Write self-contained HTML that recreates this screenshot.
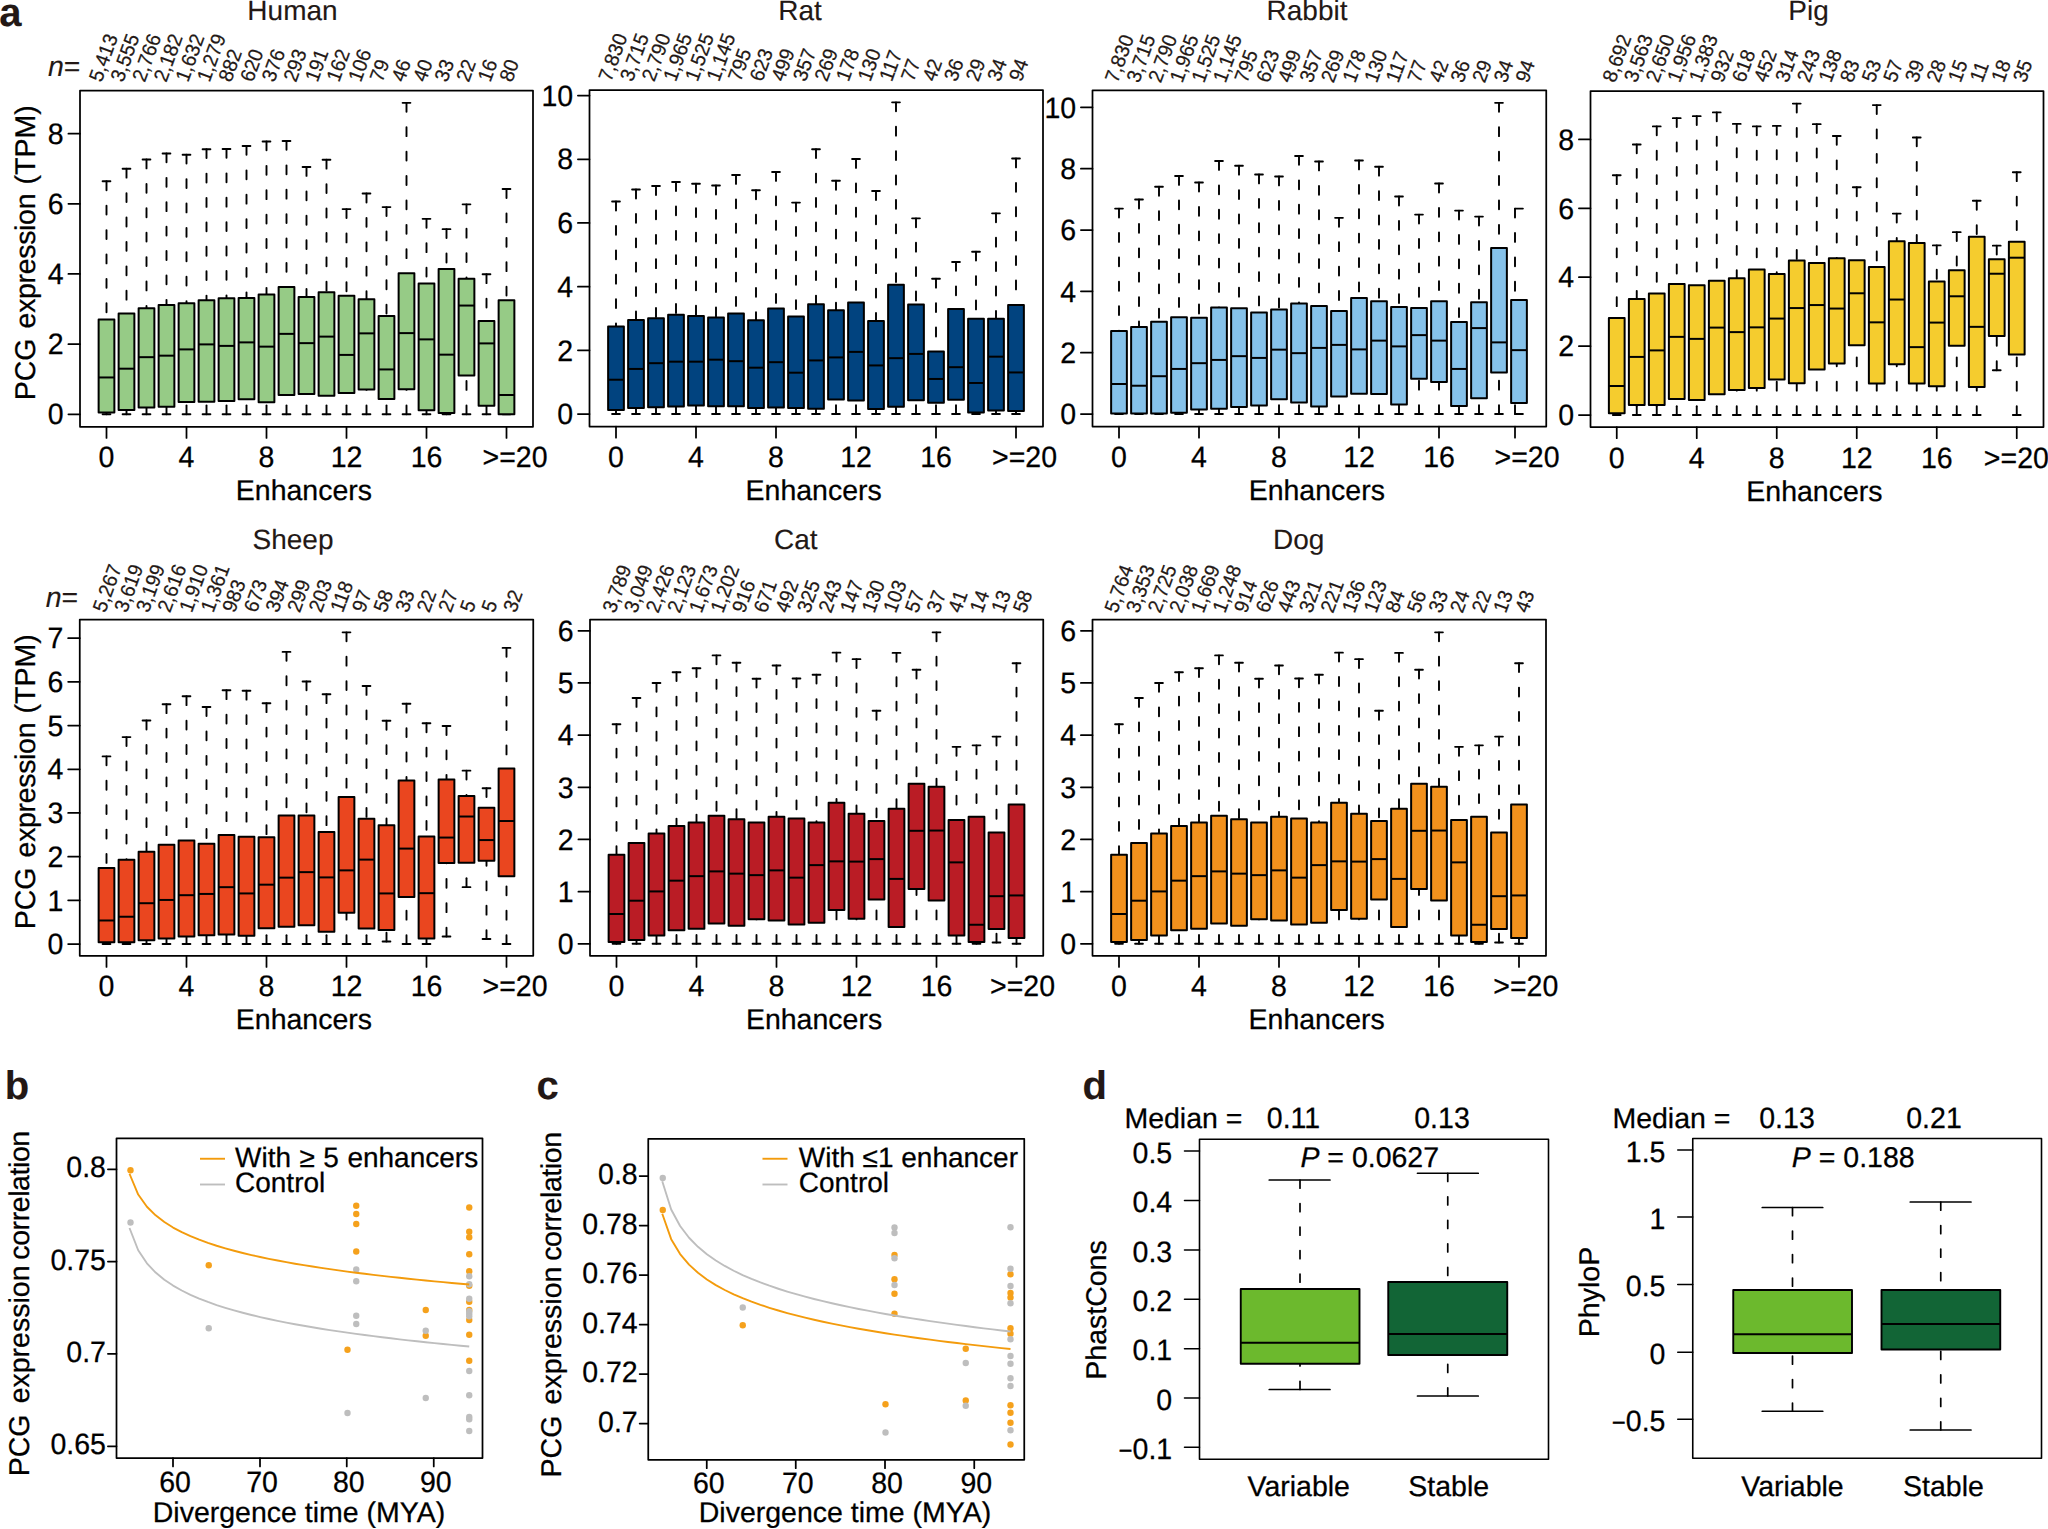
<!DOCTYPE html>
<html lang="en"><head><meta charset="utf-8"><title>Figure</title>
<style>
html,body{margin:0;padding:0;background:#fff}
svg{display:block}
text{font-family:'Liberation Sans', Arial, Helvetica, sans-serif;fill:#000;text-rendering:geometricPrecision;stroke:#000;stroke-width:.26px;stroke-linejoin:round}
.k{fill:#231815;stroke:#231815;stroke-width:.12px}
.kn{stroke-width:.22px}
.fr{fill:none;stroke:#000;stroke-width:1.75;stroke-linejoin:round}
.fr2{fill:none;stroke:#000;stroke-width:1.6;stroke-linejoin:round}
.t{fill:none;stroke:#000;stroke-width:1.75;stroke-linecap:round}
.t2{fill:none;stroke:#000;stroke-width:1.55;stroke-linecap:round}
.w{stroke:#000;stroke-width:1.9;stroke-dasharray:8.9 15.5;stroke-linecap:round}
.c{stroke:#000;stroke-width:1.9;fill:none;stroke-linecap:round}
.b{stroke:#000;stroke-width:2.0;stroke-linejoin:round}
.m{stroke:#000;stroke-width:2.0}
.w2{stroke:#000;stroke-width:1.7;stroke-dasharray:8.2 15.3;stroke-linecap:round}
.c2{stroke:#000;stroke-width:1.7;fill:none;stroke-linecap:round}
.b2{stroke:#000;stroke-width:1.9;stroke-linejoin:round}
.m2{stroke:#000;stroke-width:1.9}
</style></head>
<body>
<svg width="2048" height="1529" viewBox="0 0 2048 1529">
<rect width="2048" height="1529" fill="#fff"/>
<g>
<text x="292.5" y="20" text-anchor="middle" font-size="28" class="k">Human</text>
<text transform="translate(101.5,83) rotate(-70) scale(1,1.035)" font-size="19.5" class="k kn">5,413</text>
<text transform="translate(123.1,83) rotate(-70) scale(1,1.035)" font-size="19.5" class="k kn">3,555</text>
<text transform="translate(144.7,83) rotate(-70) scale(1,1.035)" font-size="19.5" class="k kn">2,766</text>
<text transform="translate(166.3,83) rotate(-70) scale(1,1.035)" font-size="19.5" class="k kn">2,182</text>
<text transform="translate(187.9,83) rotate(-70) scale(1,1.035)" font-size="19.5" class="k kn">1,632</text>
<text transform="translate(209.5,83) rotate(-70) scale(1,1.035)" font-size="19.5" class="k kn">1,279</text>
<text transform="translate(231.1,83) rotate(-70) scale(1,1.035)" font-size="19.5" class="k kn">882</text>
<text transform="translate(252.7,83) rotate(-70) scale(1,1.035)" font-size="19.5" class="k kn">620</text>
<text transform="translate(274.3,83) rotate(-70) scale(1,1.035)" font-size="19.5" class="k kn">376</text>
<text transform="translate(295.9,83) rotate(-70) scale(1,1.035)" font-size="19.5" class="k kn">293</text>
<text transform="translate(317.5,83) rotate(-70) scale(1,1.035)" font-size="19.5" class="k kn">191</text>
<text transform="translate(339.1,83) rotate(-70) scale(1,1.035)" font-size="19.5" class="k kn">162</text>
<text transform="translate(360.7,83) rotate(-70) scale(1,1.035)" font-size="19.5" class="k kn">106</text>
<text transform="translate(382.3,83) rotate(-70) scale(1,1.035)" font-size="19.5" class="k kn">79</text>
<text transform="translate(403.9,83) rotate(-70) scale(1,1.035)" font-size="19.5" class="k kn">46</text>
<text transform="translate(425.5,83) rotate(-70) scale(1,1.035)" font-size="19.5" class="k kn">40</text>
<text transform="translate(447.1,83) rotate(-70) scale(1,1.035)" font-size="19.5" class="k kn">33</text>
<text transform="translate(468.7,83) rotate(-70) scale(1,1.035)" font-size="19.5" class="k kn">22</text>
<text transform="translate(490.3,83) rotate(-70) scale(1,1.035)" font-size="19.5" class="k kn">16</text>
<text transform="translate(511.9,83) rotate(-70) scale(1,1.035)" font-size="19.5" class="k kn">80</text>
<text x="48" y="76.3" font-size="28.5" class="k"><tspan font-style="italic">n</tspan>=</text>
<text transform="translate(35.3,400.25) rotate(-90)" font-size="28.5">PCG<tspan dx="2.2"> </tspan><tspan letter-spacing="-.33">expression</tspan><tspan dx="1.5"> (TPM)</tspan></text>
<line x1="106.5" y1="181.28" x2="106.5" y2="319.58" class="w"/>
<line x1="106.5" y1="414.29" x2="106.5" y2="412.54" class="w"/>
<path d="M102.6 181.28H110.4M102.6 414.29H110.4" class="c"/>
<rect x="98.63" y="319.58" width="15.74" height="92.95" fill="#96CB86" class="b"/>
<line x1="98.63" y1="377.46" x2="114.37" y2="377.46" class="m"/>
<line x1="126.5" y1="168.75" x2="126.5" y2="313.57" class="w"/>
<line x1="126.5" y1="414.29" x2="126.5" y2="410.03" class="w"/>
<path d="M122.6 168.75H130.4M122.6 414.29H130.4" class="c"/>
<rect x="118.63" y="313.57" width="15.74" height="96.46" fill="#96CB86" class="b"/>
<line x1="118.63" y1="368.69" x2="134.37" y2="368.69" class="m"/>
<line x1="146.5" y1="159.48" x2="146.5" y2="308.31" class="w"/>
<line x1="146.5" y1="414.29" x2="146.5" y2="407.53" class="w"/>
<path d="M142.6 159.48H150.4M142.6 414.29H150.4" class="c"/>
<rect x="138.63" y="308.31" width="15.74" height="99.22" fill="#96CB86" class="b"/>
<line x1="138.63" y1="357.17" x2="154.37" y2="357.17" class="m"/>
<line x1="166.5" y1="153.47" x2="166.5" y2="305.05" class="w"/>
<line x1="166.5" y1="414.29" x2="166.5" y2="406.78" class="w"/>
<path d="M162.6 153.47H170.4M162.6 414.29H170.4" class="c"/>
<rect x="158.63" y="305.05" width="15.74" height="101.72" fill="#96CB86" class="b"/>
<line x1="158.63" y1="355.66" x2="174.37" y2="355.66" class="m"/>
<line x1="186.5" y1="154.72" x2="186.5" y2="303.3" class="w"/>
<line x1="186.5" y1="414.29" x2="186.5" y2="402.01" class="w"/>
<path d="M182.6 154.72H190.4M182.6 414.29H190.4" class="c"/>
<rect x="178.63" y="303.3" width="15.74" height="98.72" fill="#96CB86" class="b"/>
<line x1="178.63" y1="349.4" x2="194.37" y2="349.4" class="m"/>
<line x1="206.5" y1="149.21" x2="206.5" y2="300.29" class="w"/>
<line x1="206.5" y1="414.29" x2="206.5" y2="401.76" class="w"/>
<path d="M202.6 149.21H210.4M202.6 414.29H210.4" class="c"/>
<rect x="198.63" y="300.29" width="15.74" height="101.47" fill="#96CB86" class="b"/>
<line x1="198.63" y1="344.39" x2="214.37" y2="344.39" class="m"/>
<line x1="226.5" y1="148.96" x2="226.5" y2="298.29" class="w"/>
<line x1="226.5" y1="414.29" x2="226.5" y2="401.01" class="w"/>
<path d="M222.6 148.96H230.4M222.6 414.29H230.4" class="c"/>
<rect x="218.63" y="298.29" width="15.74" height="102.73" fill="#96CB86" class="b"/>
<line x1="218.63" y1="345.89" x2="234.37" y2="345.89" class="m"/>
<line x1="246.5" y1="145.95" x2="246.5" y2="298.04" class="w"/>
<line x1="246.5" y1="414.29" x2="246.5" y2="399.26" class="w"/>
<path d="M242.6 145.95H250.4M242.6 414.29H250.4" class="c"/>
<rect x="238.63" y="298.04" width="15.74" height="101.22" fill="#96CB86" class="b"/>
<line x1="238.63" y1="342.38" x2="254.37" y2="342.38" class="m"/>
<line x1="266.5" y1="141.44" x2="266.5" y2="294.53" class="w"/>
<line x1="266.5" y1="414.29" x2="266.5" y2="402.27" class="w"/>
<path d="M262.6 141.44H270.4M262.6 414.29H270.4" class="c"/>
<rect x="258.63" y="294.53" width="15.74" height="107.74" fill="#96CB86" class="b"/>
<line x1="258.63" y1="346.64" x2="274.37" y2="346.64" class="m"/>
<line x1="286.5" y1="140.94" x2="286.5" y2="287.01" class="w"/>
<line x1="286.5" y1="414.29" x2="286.5" y2="395" class="w"/>
<path d="M282.6 140.94H290.4M282.6 414.29H290.4" class="c"/>
<rect x="278.63" y="287.01" width="15.74" height="107.99" fill="#96CB86" class="b"/>
<line x1="278.63" y1="333.87" x2="294.37" y2="333.87" class="m"/>
<line x1="306.5" y1="167" x2="306.5" y2="297.03" class="w"/>
<line x1="306.5" y1="414.29" x2="306.5" y2="394" class="w"/>
<path d="M302.6 167H310.4M302.6 414.29H310.4" class="c"/>
<rect x="298.63" y="297.03" width="15.74" height="96.96" fill="#96CB86" class="b"/>
<line x1="298.63" y1="343.14" x2="314.37" y2="343.14" class="m"/>
<line x1="326.5" y1="159.73" x2="326.5" y2="292.27" class="w"/>
<line x1="326.5" y1="414.29" x2="326.5" y2="395.75" class="w"/>
<path d="M322.6 159.73H330.4M322.6 414.29H330.4" class="c"/>
<rect x="318.63" y="292.27" width="15.74" height="103.48" fill="#96CB86" class="b"/>
<line x1="318.63" y1="336.62" x2="334.37" y2="336.62" class="m"/>
<line x1="346.5" y1="209.09" x2="346.5" y2="295.78" class="w"/>
<line x1="346.5" y1="414.29" x2="346.5" y2="393" class="w"/>
<path d="M342.6 209.09H350.4M342.6 414.29H350.4" class="c"/>
<rect x="338.63" y="295.78" width="15.74" height="97.21" fill="#96CB86" class="b"/>
<line x1="338.63" y1="354.91" x2="354.37" y2="354.91" class="m"/>
<line x1="366.5" y1="193.56" x2="366.5" y2="299.29" class="w"/>
<line x1="366.5" y1="414.29" x2="366.5" y2="389.49" class="w"/>
<path d="M362.6 193.56H370.4M362.6 414.29H370.4" class="c"/>
<rect x="358.63" y="299.29" width="15.74" height="90.2" fill="#96CB86" class="b"/>
<line x1="358.63" y1="333.36" x2="374.37" y2="333.36" class="m"/>
<line x1="386.5" y1="207.09" x2="386.5" y2="316.08" class="w"/>
<line x1="386.5" y1="414.29" x2="386.5" y2="399.01" class="w"/>
<path d="M382.6 207.09H390.4M382.6 414.29H390.4" class="c"/>
<rect x="378.63" y="316.08" width="15.74" height="82.93" fill="#96CB86" class="b"/>
<line x1="378.63" y1="369.44" x2="394.37" y2="369.44" class="m"/>
<line x1="406.5" y1="102.86" x2="406.5" y2="273.23" class="w"/>
<line x1="406.5" y1="414.29" x2="406.5" y2="389.24" class="w"/>
<path d="M402.6 102.86H410.4M402.6 414.29H410.4" class="c"/>
<rect x="398.63" y="273.23" width="15.74" height="116" fill="#96CB86" class="b"/>
<line x1="398.63" y1="333.11" x2="414.37" y2="333.11" class="m"/>
<line x1="426.5" y1="218.86" x2="426.5" y2="283.5" class="w"/>
<line x1="426.5" y1="414.29" x2="426.5" y2="410.28" class="w"/>
<path d="M422.6 218.86H430.4M422.6 414.29H430.4" class="c"/>
<rect x="418.63" y="283.5" width="15.74" height="126.78" fill="#96CB86" class="b"/>
<line x1="418.63" y1="339.38" x2="434.37" y2="339.38" class="m"/>
<line x1="446.5" y1="229.14" x2="446.5" y2="268.97" class="w"/>
<line x1="446.5" y1="414.29" x2="446.5" y2="413.04" class="w"/>
<path d="M442.6 229.14H450.4M442.6 414.29H450.4" class="c"/>
<rect x="438.63" y="268.97" width="15.74" height="144.07" fill="#96CB86" class="b"/>
<line x1="438.63" y1="354.66" x2="454.37" y2="354.66" class="m"/>
<line x1="466.5" y1="204.33" x2="466.5" y2="278.74" class="w"/>
<line x1="466.5" y1="414.29" x2="466.5" y2="375.46" class="w"/>
<path d="M462.6 204.33H470.4M462.6 414.29H470.4" class="c"/>
<rect x="458.63" y="278.74" width="15.74" height="96.71" fill="#96CB86" class="b"/>
<line x1="458.63" y1="305.55" x2="474.37" y2="305.55" class="m"/>
<line x1="486.5" y1="274.23" x2="486.5" y2="321.09" class="w"/>
<line x1="486.5" y1="414.29" x2="486.5" y2="405.77" class="w"/>
<path d="M482.6 274.23H490.4M482.6 414.29H490.4" class="c"/>
<rect x="478.63" y="321.09" width="15.74" height="84.69" fill="#96CB86" class="b"/>
<line x1="478.63" y1="343.39" x2="494.37" y2="343.39" class="m"/>
<line x1="506.5" y1="189.05" x2="506.5" y2="300.29" class="w"/>
<path d="M502.6 189.05H510.4M502.6 414.29H510.4" class="c"/>
<rect x="498.63" y="300.29" width="15.74" height="114" fill="#96CB86" class="b"/>
<line x1="498.63" y1="395" x2="514.37" y2="395" class="m"/>
<rect x="80" y="90.5" width="453" height="336.25" class="fr"/>
<text transform="translate(63.7,424.49) scale(1,1.035)" text-anchor="end" font-size="28.5">0</text>
<text transform="translate(63.7,354.34) scale(1,1.035)" text-anchor="end" font-size="28.5">2</text>
<text transform="translate(63.7,284.18) scale(1,1.035)" text-anchor="end" font-size="28.5">4</text>
<text transform="translate(63.7,214.03) scale(1,1.035)" text-anchor="end" font-size="28.5">6</text>
<text transform="translate(63.7,143.88) scale(1,1.035)" text-anchor="end" font-size="28.5">8</text>
<text transform="translate(106.5,467.25) scale(1,1.035)" text-anchor="middle" font-size="28.5">0</text>
<text transform="translate(186.5,467.25) scale(1,1.035)" text-anchor="middle" font-size="28.5">4</text>
<text transform="translate(266.5,467.25) scale(1,1.035)" text-anchor="middle" font-size="28.5">8</text>
<text transform="translate(346.5,467.25) scale(1,1.035)" text-anchor="middle" font-size="28.5">12</text>
<text transform="translate(426.5,467.25) scale(1,1.035)" text-anchor="middle" font-size="28.5">16</text>
<text transform="translate(515,467.25) scale(1,1.035)" text-anchor="middle" font-size="28.5">&gt;=20</text>
<path d="M68.4 414.29H80M68.4 344.14H80M68.4 273.98H80M68.4 203.83H80M68.4 133.68H80M106.5 426.75V437.95M186.5 426.75V437.95M266.5 426.75V437.95M346.5 426.75V437.95M426.5 426.75V437.95M506.5 426.75V437.95" class="t"/>
<text x="303.9" y="500.35" text-anchor="middle" font-size="28.5">Enhancers</text>
</g>
<g>
<text x="800" y="20" text-anchor="middle" font-size="28" class="k">Rat</text>
<text transform="translate(611,82.5) rotate(-70) scale(1,1.035)" font-size="19.5" class="k kn">7,830</text>
<text transform="translate(632.6,82.5) rotate(-70) scale(1,1.035)" font-size="19.5" class="k kn">3,715</text>
<text transform="translate(654.2,82.5) rotate(-70) scale(1,1.035)" font-size="19.5" class="k kn">2,790</text>
<text transform="translate(675.8,82.5) rotate(-70) scale(1,1.035)" font-size="19.5" class="k kn">1,965</text>
<text transform="translate(697.4,82.5) rotate(-70) scale(1,1.035)" font-size="19.5" class="k kn">1,525</text>
<text transform="translate(719,82.5) rotate(-70) scale(1,1.035)" font-size="19.5" class="k kn">1,145</text>
<text transform="translate(740.6,82.5) rotate(-70) scale(1,1.035)" font-size="19.5" class="k kn">795</text>
<text transform="translate(762.2,82.5) rotate(-70) scale(1,1.035)" font-size="19.5" class="k kn">623</text>
<text transform="translate(783.8,82.5) rotate(-70) scale(1,1.035)" font-size="19.5" class="k kn">499</text>
<text transform="translate(805.4,82.5) rotate(-70) scale(1,1.035)" font-size="19.5" class="k kn">357</text>
<text transform="translate(827,82.5) rotate(-70) scale(1,1.035)" font-size="19.5" class="k kn">269</text>
<text transform="translate(848.6,82.5) rotate(-70) scale(1,1.035)" font-size="19.5" class="k kn">178</text>
<text transform="translate(870.2,82.5) rotate(-70) scale(1,1.035)" font-size="19.5" class="k kn">130</text>
<text transform="translate(891.8,82.5) rotate(-70) scale(1,1.035)" font-size="19.5" class="k kn">117</text>
<text transform="translate(913.4,82.5) rotate(-70) scale(1,1.035)" font-size="19.5" class="k kn">77</text>
<text transform="translate(935,82.5) rotate(-70) scale(1,1.035)" font-size="19.5" class="k kn">42</text>
<text transform="translate(956.6,82.5) rotate(-70) scale(1,1.035)" font-size="19.5" class="k kn">36</text>
<text transform="translate(978.2,82.5) rotate(-70) scale(1,1.035)" font-size="19.5" class="k kn">29</text>
<text transform="translate(999.8,82.5) rotate(-70) scale(1,1.035)" font-size="19.5" class="k kn">34</text>
<text transform="translate(1021.4,82.5) rotate(-70) scale(1,1.035)" font-size="19.5" class="k kn">94</text>
<line x1="616" y1="201.57" x2="616" y2="326.6" class="w"/>
<line x1="616" y1="414.04" x2="616" y2="410.03" class="w"/>
<path d="M612.1 201.57H619.9M612.1 414.04H619.9" class="c"/>
<rect x="608.13" y="326.6" width="15.74" height="83.43" fill="#01437F" class="b"/>
<line x1="608.13" y1="379.72" x2="623.87" y2="379.72" class="m"/>
<line x1="636" y1="189.55" x2="636" y2="320.08" class="w"/>
<line x1="636" y1="414.04" x2="636" y2="408.03" class="w"/>
<path d="M632.1 189.55H639.9M632.1 414.04H639.9" class="c"/>
<rect x="628.13" y="320.08" width="15.74" height="87.94" fill="#01437F" class="b"/>
<line x1="628.13" y1="368.94" x2="643.87" y2="368.94" class="m"/>
<line x1="656" y1="186.04" x2="656" y2="318.33" class="w"/>
<line x1="656" y1="414.04" x2="656" y2="407.28" class="w"/>
<path d="M652.1 186.04H659.9M652.1 414.04H659.9" class="c"/>
<rect x="648.13" y="318.33" width="15.74" height="88.95" fill="#01437F" class="b"/>
<line x1="648.13" y1="363.18" x2="663.87" y2="363.18" class="m"/>
<line x1="676" y1="182.03" x2="676" y2="314.82" class="w"/>
<line x1="676" y1="414.04" x2="676" y2="406.52" class="w"/>
<path d="M672.1 182.03H679.9M672.1 414.04H679.9" class="c"/>
<rect x="668.13" y="314.82" width="15.74" height="91.7" fill="#01437F" class="b"/>
<line x1="668.13" y1="361.68" x2="683.87" y2="361.68" class="m"/>
<line x1="696" y1="183.79" x2="696" y2="316.08" class="w"/>
<line x1="696" y1="414.04" x2="696" y2="405.52" class="w"/>
<path d="M692.1 183.79H699.9M692.1 414.04H699.9" class="c"/>
<rect x="688.13" y="316.08" width="15.74" height="89.45" fill="#01437F" class="b"/>
<line x1="688.13" y1="361.68" x2="703.87" y2="361.68" class="m"/>
<line x1="716" y1="185.54" x2="716" y2="317.58" class="w"/>
<line x1="716" y1="414.04" x2="716" y2="406.27" class="w"/>
<path d="M712.1 185.54H719.9M712.1 414.04H719.9" class="c"/>
<rect x="708.13" y="317.58" width="15.74" height="88.69" fill="#01437F" class="b"/>
<line x1="708.13" y1="359.67" x2="723.87" y2="359.67" class="m"/>
<line x1="736" y1="175.02" x2="736" y2="313.57" class="w"/>
<line x1="736" y1="414.04" x2="736" y2="406.27" class="w"/>
<path d="M732.1 175.02H739.9M732.1 414.04H739.9" class="c"/>
<rect x="728.13" y="313.57" width="15.74" height="92.7" fill="#01437F" class="b"/>
<line x1="728.13" y1="361.18" x2="743.87" y2="361.18" class="m"/>
<line x1="756" y1="190.3" x2="756" y2="320.34" class="w"/>
<line x1="756" y1="414.04" x2="756" y2="408.03" class="w"/>
<path d="M752.1 190.3H759.9M752.1 414.04H759.9" class="c"/>
<rect x="748.13" y="320.34" width="15.74" height="87.69" fill="#01437F" class="b"/>
<line x1="748.13" y1="367.69" x2="763.87" y2="367.69" class="m"/>
<line x1="776" y1="172.01" x2="776" y2="308.56" class="w"/>
<line x1="776" y1="414.04" x2="776" y2="407.53" class="w"/>
<path d="M772.1 172.01H779.9M772.1 414.04H779.9" class="c"/>
<rect x="768.13" y="308.56" width="15.74" height="98.97" fill="#01437F" class="b"/>
<line x1="768.13" y1="362.18" x2="783.87" y2="362.18" class="m"/>
<line x1="796" y1="202.58" x2="796" y2="316.58" class="w"/>
<line x1="796" y1="414.04" x2="796" y2="408.03" class="w"/>
<path d="M792.1 202.58H799.9M792.1 414.04H799.9" class="c"/>
<rect x="788.13" y="316.58" width="15.74" height="91.45" fill="#01437F" class="b"/>
<line x1="788.13" y1="372.7" x2="803.87" y2="372.7" class="m"/>
<line x1="816" y1="149.21" x2="816" y2="304.3" class="w"/>
<line x1="816" y1="414.04" x2="816" y2="408.78" class="w"/>
<path d="M812.1 149.21H819.9M812.1 414.04H819.9" class="c"/>
<rect x="808.13" y="304.3" width="15.74" height="104.48" fill="#01437F" class="b"/>
<line x1="808.13" y1="360.42" x2="823.87" y2="360.42" class="m"/>
<line x1="836" y1="180.78" x2="836" y2="310.31" class="w"/>
<line x1="836" y1="414.04" x2="836" y2="399.51" class="w"/>
<path d="M832.1 180.78H839.9M832.1 414.04H839.9" class="c"/>
<rect x="828.13" y="310.31" width="15.74" height="89.2" fill="#01437F" class="b"/>
<line x1="828.13" y1="357.42" x2="843.87" y2="357.42" class="m"/>
<line x1="856" y1="158.98" x2="856" y2="302.55" class="w"/>
<line x1="856" y1="414.04" x2="856" y2="400.51" class="w"/>
<path d="M852.1 158.98H859.9M852.1 414.04H859.9" class="c"/>
<rect x="848.13" y="302.55" width="15.74" height="97.97" fill="#01437F" class="b"/>
<line x1="848.13" y1="351.9" x2="863.87" y2="351.9" class="m"/>
<line x1="876" y1="191.05" x2="876" y2="321.09" class="w"/>
<line x1="876" y1="414.04" x2="876" y2="409.03" class="w"/>
<path d="M872.1 191.05H879.9M872.1 414.04H879.9" class="c"/>
<rect x="868.13" y="321.09" width="15.74" height="87.94" fill="#01437F" class="b"/>
<line x1="868.13" y1="365.43" x2="883.87" y2="365.43" class="m"/>
<line x1="896" y1="102.36" x2="896" y2="284.76" class="w"/>
<line x1="896" y1="414.04" x2="896" y2="406.78" class="w"/>
<path d="M892.1 102.36H899.9M892.1 414.04H899.9" class="c"/>
<rect x="888.13" y="284.76" width="15.74" height="122.02" fill="#01437F" class="b"/>
<line x1="888.13" y1="358.17" x2="903.87" y2="358.17" class="m"/>
<line x1="916" y1="218.36" x2="916" y2="304.55" class="w"/>
<line x1="916" y1="414.04" x2="916" y2="400.26" class="w"/>
<path d="M912.1 218.36H919.9M912.1 414.04H919.9" class="c"/>
<rect x="908.13" y="304.55" width="15.74" height="95.71" fill="#01437F" class="b"/>
<line x1="908.13" y1="353.91" x2="923.87" y2="353.91" class="m"/>
<line x1="936" y1="278.74" x2="936" y2="351.4" class="w"/>
<line x1="936" y1="414.04" x2="936" y2="402.77" class="w"/>
<path d="M932.1 278.74H939.9M932.1 414.04H939.9" class="c"/>
<rect x="928.13" y="351.4" width="15.74" height="51.36" fill="#01437F" class="b"/>
<line x1="928.13" y1="378.96" x2="943.87" y2="378.96" class="m"/>
<line x1="956" y1="261.96" x2="956" y2="309.06" class="w"/>
<line x1="956" y1="414.04" x2="956" y2="399.76" class="w"/>
<path d="M952.1 261.96H959.9M952.1 414.04H959.9" class="c"/>
<rect x="948.13" y="309.06" width="15.74" height="90.7" fill="#01437F" class="b"/>
<line x1="948.13" y1="367.19" x2="963.87" y2="367.19" class="m"/>
<line x1="976" y1="251.68" x2="976" y2="318.83" class="w"/>
<line x1="976" y1="414.04" x2="976" y2="412.54" class="w"/>
<path d="M972.1 251.68H979.9M972.1 414.04H979.9" class="c"/>
<rect x="968.13" y="318.83" width="15.74" height="93.71" fill="#01437F" class="b"/>
<line x1="968.13" y1="382.97" x2="983.87" y2="382.97" class="m"/>
<line x1="996" y1="213.35" x2="996" y2="318.83" class="w"/>
<line x1="996" y1="414.04" x2="996" y2="410.53" class="w"/>
<path d="M992.1 213.35H999.9M992.1 414.04H999.9" class="c"/>
<rect x="988.13" y="318.83" width="15.74" height="91.7" fill="#01437F" class="b"/>
<line x1="988.13" y1="356.67" x2="1003.87" y2="356.67" class="m"/>
<line x1="1016" y1="158.48" x2="1016" y2="305.05" class="w"/>
<line x1="1016" y1="414.04" x2="1016" y2="411.03" class="w"/>
<path d="M1012.1 158.48H1019.9M1012.1 414.04H1019.9" class="c"/>
<rect x="1008.13" y="305.05" width="15.74" height="105.98" fill="#01437F" class="b"/>
<line x1="1008.13" y1="372.45" x2="1023.87" y2="372.45" class="m"/>
<rect x="589.5" y="90" width="453.5" height="336.5" class="fr"/>
<text transform="translate(573.2,424.24) scale(1,1.035)" text-anchor="end" font-size="28.5">0</text>
<text transform="translate(573.2,360.55) scale(1,1.035)" text-anchor="end" font-size="28.5">2</text>
<text transform="translate(573.2,296.86) scale(1,1.035)" text-anchor="end" font-size="28.5">4</text>
<text transform="translate(573.2,233.17) scale(1,1.035)" text-anchor="end" font-size="28.5">6</text>
<text transform="translate(573.2,169.48) scale(1,1.035)" text-anchor="end" font-size="28.5">8</text>
<text transform="translate(573.2,105.79) scale(1,1.035)" text-anchor="end" font-size="28.5">10</text>
<text transform="translate(616,467) scale(1,1.035)" text-anchor="middle" font-size="28.5">0</text>
<text transform="translate(696,467) scale(1,1.035)" text-anchor="middle" font-size="28.5">4</text>
<text transform="translate(776,467) scale(1,1.035)" text-anchor="middle" font-size="28.5">8</text>
<text transform="translate(856,467) scale(1,1.035)" text-anchor="middle" font-size="28.5">12</text>
<text transform="translate(936,467) scale(1,1.035)" text-anchor="middle" font-size="28.5">16</text>
<text transform="translate(1024.5,467) scale(1,1.035)" text-anchor="middle" font-size="28.5">&gt;=20</text>
<path d="M577.9 414.04H589.5M577.9 350.35H589.5M577.9 286.66H589.5M577.9 222.97H589.5M577.9 159.28H589.5M577.9 95.59H589.5M616 426.5V437.7M696 426.5V437.7M776 426.5V437.7M856 426.5V437.7M936 426.5V437.7M1016 426.5V437.7" class="t"/>
<text x="813.65" y="500.1" text-anchor="middle" font-size="28.5">Enhancers</text>
</g>
<g>
<text x="1307" y="20" text-anchor="middle" font-size="28" class="k">Rabbit</text>
<text transform="translate(1117.5,83.75) rotate(-70) scale(1,1.035)" font-size="19.5" class="k kn">7,830</text>
<text transform="translate(1139.1,83.75) rotate(-70) scale(1,1.035)" font-size="19.5" class="k kn">3,715</text>
<text transform="translate(1160.7,83.75) rotate(-70) scale(1,1.035)" font-size="19.5" class="k kn">2,790</text>
<text transform="translate(1182.3,83.75) rotate(-70) scale(1,1.035)" font-size="19.5" class="k kn">1,965</text>
<text transform="translate(1203.9,83.75) rotate(-70) scale(1,1.035)" font-size="19.5" class="k kn">1,525</text>
<text transform="translate(1225.5,83.75) rotate(-70) scale(1,1.035)" font-size="19.5" class="k kn">1,145</text>
<text transform="translate(1247.1,83.75) rotate(-70) scale(1,1.035)" font-size="19.5" class="k kn">795</text>
<text transform="translate(1268.7,83.75) rotate(-70) scale(1,1.035)" font-size="19.5" class="k kn">623</text>
<text transform="translate(1290.3,83.75) rotate(-70) scale(1,1.035)" font-size="19.5" class="k kn">499</text>
<text transform="translate(1311.9,83.75) rotate(-70) scale(1,1.035)" font-size="19.5" class="k kn">357</text>
<text transform="translate(1333.5,83.75) rotate(-70) scale(1,1.035)" font-size="19.5" class="k kn">269</text>
<text transform="translate(1355.1,83.75) rotate(-70) scale(1,1.035)" font-size="19.5" class="k kn">178</text>
<text transform="translate(1376.7,83.75) rotate(-70) scale(1,1.035)" font-size="19.5" class="k kn">130</text>
<text transform="translate(1398.3,83.75) rotate(-70) scale(1,1.035)" font-size="19.5" class="k kn">117</text>
<text transform="translate(1419.9,83.75) rotate(-70) scale(1,1.035)" font-size="19.5" class="k kn">77</text>
<text transform="translate(1441.5,83.75) rotate(-70) scale(1,1.035)" font-size="19.5" class="k kn">42</text>
<text transform="translate(1463.1,83.75) rotate(-70) scale(1,1.035)" font-size="19.5" class="k kn">36</text>
<text transform="translate(1484.7,83.75) rotate(-70) scale(1,1.035)" font-size="19.5" class="k kn">29</text>
<text transform="translate(1506.3,83.75) rotate(-70) scale(1,1.035)" font-size="19.5" class="k kn">34</text>
<text transform="translate(1527.9,83.75) rotate(-70) scale(1,1.035)" font-size="19.5" class="k kn">94</text>
<line x1="1119" y1="208.59" x2="1119" y2="331.11" class="w"/>
<line x1="1119" y1="414.04" x2="1119" y2="413.54" class="w"/>
<path d="M1115.1 208.59H1122.9M1115.1 414.04H1122.9" class="c"/>
<rect x="1111.13" y="331.11" width="15.74" height="82.43" fill="#86C2EA" class="b"/>
<line x1="1111.13" y1="383.98" x2="1126.87" y2="383.98" class="m"/>
<line x1="1139" y1="199.57" x2="1139" y2="327.1" class="w"/>
<line x1="1139" y1="414.04" x2="1139" y2="413.54" class="w"/>
<path d="M1135.1 199.57H1142.9M1135.1 414.04H1142.9" class="c"/>
<rect x="1131.13" y="327.1" width="15.74" height="86.44" fill="#86C2EA" class="b"/>
<line x1="1131.13" y1="385.73" x2="1146.87" y2="385.73" class="m"/>
<line x1="1159" y1="186.79" x2="1159" y2="321.84" class="w"/>
<line x1="1159" y1="414.04" x2="1159" y2="413.54" class="w"/>
<path d="M1155.1 186.79H1162.9M1155.1 414.04H1162.9" class="c"/>
<rect x="1151.13" y="321.84" width="15.74" height="91.7" fill="#86C2EA" class="b"/>
<line x1="1151.13" y1="376.21" x2="1166.87" y2="376.21" class="m"/>
<line x1="1179" y1="176.02" x2="1179" y2="317.33" class="w"/>
<line x1="1179" y1="414.04" x2="1179" y2="412.79" class="w"/>
<path d="M1175.1 176.02H1182.9M1175.1 414.04H1182.9" class="c"/>
<rect x="1171.13" y="317.33" width="15.74" height="95.46" fill="#86C2EA" class="b"/>
<line x1="1171.13" y1="368.94" x2="1186.87" y2="368.94" class="m"/>
<line x1="1199" y1="182.53" x2="1199" y2="317.83" class="w"/>
<line x1="1199" y1="414.04" x2="1199" y2="409.53" class="w"/>
<path d="M1195.1 182.53H1202.9M1195.1 414.04H1202.9" class="c"/>
<rect x="1191.13" y="317.83" width="15.74" height="91.7" fill="#86C2EA" class="b"/>
<line x1="1191.13" y1="363.18" x2="1206.87" y2="363.18" class="m"/>
<line x1="1219" y1="160.99" x2="1219" y2="307.56" class="w"/>
<line x1="1219" y1="414.04" x2="1219" y2="408.78" class="w"/>
<path d="M1215.1 160.99H1222.9M1215.1 414.04H1222.9" class="c"/>
<rect x="1211.13" y="307.56" width="15.74" height="101.22" fill="#86C2EA" class="b"/>
<line x1="1211.13" y1="359.92" x2="1226.87" y2="359.92" class="m"/>
<line x1="1239" y1="165.75" x2="1239" y2="308.31" class="w"/>
<line x1="1239" y1="414.04" x2="1239" y2="407.03" class="w"/>
<path d="M1235.1 165.75H1242.9M1235.1 414.04H1242.9" class="c"/>
<rect x="1231.13" y="308.31" width="15.74" height="98.72" fill="#86C2EA" class="b"/>
<line x1="1231.13" y1="356.16" x2="1246.87" y2="356.16" class="m"/>
<line x1="1259" y1="174.52" x2="1259" y2="312.57" class="w"/>
<line x1="1259" y1="414.04" x2="1259" y2="405.52" class="w"/>
<path d="M1255.1 174.52H1262.9M1255.1 414.04H1262.9" class="c"/>
<rect x="1251.13" y="312.57" width="15.74" height="92.95" fill="#86C2EA" class="b"/>
<line x1="1251.13" y1="357.92" x2="1266.87" y2="357.92" class="m"/>
<line x1="1279" y1="176.52" x2="1279" y2="309.56" class="w"/>
<line x1="1279" y1="414.04" x2="1279" y2="399.26" class="w"/>
<path d="M1275.1 176.52H1282.9M1275.1 414.04H1282.9" class="c"/>
<rect x="1271.13" y="309.56" width="15.74" height="89.7" fill="#86C2EA" class="b"/>
<line x1="1271.13" y1="349.65" x2="1286.87" y2="349.65" class="m"/>
<line x1="1299" y1="155.97" x2="1299" y2="303.55" class="w"/>
<line x1="1299" y1="414.04" x2="1299" y2="402.52" class="w"/>
<path d="M1295.1 155.97H1302.9M1295.1 414.04H1302.9" class="c"/>
<rect x="1291.13" y="303.55" width="15.74" height="98.97" fill="#86C2EA" class="b"/>
<line x1="1291.13" y1="353.16" x2="1306.87" y2="353.16" class="m"/>
<line x1="1319" y1="161.49" x2="1319" y2="306.05" class="w"/>
<line x1="1319" y1="414.04" x2="1319" y2="406.52" class="w"/>
<path d="M1315.1 161.49H1322.9M1315.1 414.04H1322.9" class="c"/>
<rect x="1311.13" y="306.05" width="15.74" height="100.47" fill="#86C2EA" class="b"/>
<line x1="1311.13" y1="347.9" x2="1326.87" y2="347.9" class="m"/>
<line x1="1339" y1="217.86" x2="1339" y2="311.07" class="w"/>
<line x1="1339" y1="414.04" x2="1339" y2="396.5" class="w"/>
<path d="M1335.1 217.86H1342.9M1335.1 414.04H1342.9" class="c"/>
<rect x="1331.13" y="311.07" width="15.74" height="85.44" fill="#86C2EA" class="b"/>
<line x1="1331.13" y1="344.89" x2="1346.87" y2="344.89" class="m"/>
<line x1="1359" y1="160.48" x2="1359" y2="298.04" class="w"/>
<line x1="1359" y1="414.04" x2="1359" y2="393.75" class="w"/>
<path d="M1355.1 160.48H1362.9M1355.1 414.04H1362.9" class="c"/>
<rect x="1351.13" y="298.04" width="15.74" height="95.71" fill="#86C2EA" class="b"/>
<line x1="1351.13" y1="349.4" x2="1366.87" y2="349.4" class="m"/>
<line x1="1379" y1="166.75" x2="1379" y2="301.29" class="w"/>
<line x1="1379" y1="414.04" x2="1379" y2="394" class="w"/>
<path d="M1375.1 166.75H1382.9M1375.1 414.04H1382.9" class="c"/>
<rect x="1371.13" y="301.29" width="15.74" height="92.7" fill="#86C2EA" class="b"/>
<line x1="1371.13" y1="340.63" x2="1386.87" y2="340.63" class="m"/>
<line x1="1399" y1="196.56" x2="1399" y2="307.06" class="w"/>
<line x1="1399" y1="414.04" x2="1399" y2="404.52" class="w"/>
<path d="M1395.1 196.56H1402.9M1395.1 414.04H1402.9" class="c"/>
<rect x="1391.13" y="307.06" width="15.74" height="97.46" fill="#86C2EA" class="b"/>
<line x1="1391.13" y1="346.39" x2="1406.87" y2="346.39" class="m"/>
<line x1="1419" y1="214.6" x2="1419" y2="308.06" class="w"/>
<line x1="1419" y1="414.04" x2="1419" y2="378.71" class="w"/>
<path d="M1415.1 214.6H1422.9M1415.1 414.04H1422.9" class="c"/>
<rect x="1411.13" y="308.06" width="15.74" height="70.66" fill="#86C2EA" class="b"/>
<line x1="1411.13" y1="335.12" x2="1426.87" y2="335.12" class="m"/>
<line x1="1439" y1="183.54" x2="1439" y2="301.29" class="w"/>
<line x1="1439" y1="414.04" x2="1439" y2="381.97" class="w"/>
<path d="M1435.1 183.54H1442.9M1435.1 414.04H1442.9" class="c"/>
<rect x="1431.13" y="301.29" width="15.74" height="80.68" fill="#86C2EA" class="b"/>
<line x1="1431.13" y1="340.63" x2="1446.87" y2="340.63" class="m"/>
<line x1="1459" y1="210.59" x2="1459" y2="322.09" class="w"/>
<line x1="1459" y1="414.04" x2="1459" y2="406.02" class="w"/>
<path d="M1455.1 210.59H1462.9M1455.1 414.04H1462.9" class="c"/>
<rect x="1451.13" y="322.09" width="15.74" height="83.93" fill="#86C2EA" class="b"/>
<line x1="1451.13" y1="368.94" x2="1466.87" y2="368.94" class="m"/>
<line x1="1479" y1="216.61" x2="1479" y2="302.3" class="w"/>
<line x1="1479" y1="414.04" x2="1479" y2="398.26" class="w"/>
<path d="M1475.1 216.61H1482.9M1475.1 414.04H1482.9" class="c"/>
<rect x="1471.13" y="302.3" width="15.74" height="95.96" fill="#86C2EA" class="b"/>
<line x1="1471.13" y1="328.1" x2="1486.87" y2="328.1" class="m"/>
<line x1="1499" y1="102.86" x2="1499" y2="247.93" class="w"/>
<line x1="1499" y1="414.04" x2="1499" y2="372.45" class="w"/>
<path d="M1495.1 102.86H1502.9M1495.1 414.04H1502.9" class="c"/>
<rect x="1491.13" y="247.93" width="15.74" height="124.52" fill="#86C2EA" class="b"/>
<line x1="1491.13" y1="342.38" x2="1506.87" y2="342.38" class="m"/>
<line x1="1515" y1="208.59" x2="1515" y2="300.04" class="w"/>
<line x1="1515" y1="414.04" x2="1515" y2="403.02" class="w"/>
<path d="M1515 208.59H1522.9M1515 414.04H1522.9" class="c"/>
<rect x="1511.13" y="300.04" width="15.74" height="102.98" fill="#86C2EA" class="b"/>
<line x1="1511.13" y1="350.15" x2="1526.87" y2="350.15" class="m"/>
<rect x="1092.5" y="90.25" width="453.75" height="336.25" class="fr"/>
<text transform="translate(1076.2,424.24) scale(1,1.035)" text-anchor="end" font-size="28.5">0</text>
<text transform="translate(1076.2,362.91) scale(1,1.035)" text-anchor="end" font-size="28.5">2</text>
<text transform="translate(1076.2,301.57) scale(1,1.035)" text-anchor="end" font-size="28.5">4</text>
<text transform="translate(1076.2,240.24) scale(1,1.035)" text-anchor="end" font-size="28.5">6</text>
<text transform="translate(1076.2,178.9) scale(1,1.035)" text-anchor="end" font-size="28.5">8</text>
<text transform="translate(1076.2,117.57) scale(1,1.035)" text-anchor="end" font-size="28.5">10</text>
<text transform="translate(1119,467) scale(1,1.035)" text-anchor="middle" font-size="28.5">0</text>
<text transform="translate(1199,467) scale(1,1.035)" text-anchor="middle" font-size="28.5">4</text>
<text transform="translate(1279,467) scale(1,1.035)" text-anchor="middle" font-size="28.5">8</text>
<text transform="translate(1359,467) scale(1,1.035)" text-anchor="middle" font-size="28.5">12</text>
<text transform="translate(1439,467) scale(1,1.035)" text-anchor="middle" font-size="28.5">16</text>
<text transform="translate(1527,467) scale(1,1.035)" text-anchor="middle" font-size="28.5">&gt;=20</text>
<path d="M1080.9 414.04H1092.5M1080.9 352.71H1092.5M1080.9 291.37H1092.5M1080.9 230.04H1092.5M1080.9 168.7H1092.5M1080.9 107.37H1092.5M1119 426.5V437.7M1199 426.5V437.7M1279 426.5V437.7M1359 426.5V437.7M1439 426.5V437.7M1515 426.5V437.7" class="t"/>
<text x="1316.78" y="500.1" text-anchor="middle" font-size="28.5">Enhancers</text>
</g>
<g>
<text x="1808.5" y="20" text-anchor="middle" font-size="28" class="k">Pig</text>
<text transform="translate(1615,83.5) rotate(-70) scale(1,1.035)" font-size="19.5" class="k kn">8,692</text>
<text transform="translate(1636.6,83.5) rotate(-70) scale(1,1.035)" font-size="19.5" class="k kn">3,563</text>
<text transform="translate(1658.2,83.5) rotate(-70) scale(1,1.035)" font-size="19.5" class="k kn">2,650</text>
<text transform="translate(1679.8,83.5) rotate(-70) scale(1,1.035)" font-size="19.5" class="k kn">1,956</text>
<text transform="translate(1701.4,83.5) rotate(-70) scale(1,1.035)" font-size="19.5" class="k kn">1,383</text>
<text transform="translate(1723,83.5) rotate(-70) scale(1,1.035)" font-size="19.5" class="k kn">932</text>
<text transform="translate(1744.6,83.5) rotate(-70) scale(1,1.035)" font-size="19.5" class="k kn">618</text>
<text transform="translate(1766.2,83.5) rotate(-70) scale(1,1.035)" font-size="19.5" class="k kn">452</text>
<text transform="translate(1787.8,83.5) rotate(-70) scale(1,1.035)" font-size="19.5" class="k kn">314</text>
<text transform="translate(1809.4,83.5) rotate(-70) scale(1,1.035)" font-size="19.5" class="k kn">243</text>
<text transform="translate(1831,83.5) rotate(-70) scale(1,1.035)" font-size="19.5" class="k kn">138</text>
<text transform="translate(1852.6,83.5) rotate(-70) scale(1,1.035)" font-size="19.5" class="k kn">83</text>
<text transform="translate(1874.2,83.5) rotate(-70) scale(1,1.035)" font-size="19.5" class="k kn">53</text>
<text transform="translate(1895.8,83.5) rotate(-70) scale(1,1.035)" font-size="19.5" class="k kn">57</text>
<text transform="translate(1917.4,83.5) rotate(-70) scale(1,1.035)" font-size="19.5" class="k kn">39</text>
<text transform="translate(1939,83.5) rotate(-70) scale(1,1.035)" font-size="19.5" class="k kn">28</text>
<text transform="translate(1960.6,83.5) rotate(-70) scale(1,1.035)" font-size="19.5" class="k kn">15</text>
<text transform="translate(1982.2,83.5) rotate(-70) scale(1,1.035)" font-size="19.5" class="k kn">11</text>
<text transform="translate(2003.8,83.5) rotate(-70) scale(1,1.035)" font-size="19.5" class="k kn">18</text>
<text transform="translate(2025.4,83.5) rotate(-70) scale(1,1.035)" font-size="19.5" class="k kn">35</text>
<line x1="1616.75" y1="175.27" x2="1616.75" y2="318.08" class="w"/>
<line x1="1616.75" y1="415.04" x2="1616.75" y2="413.29" class="w"/>
<path d="M1612.85 175.27H1620.65M1612.85 415.04H1620.65" class="c"/>
<rect x="1608.88" y="318.08" width="15.74" height="95.21" fill="#F5CC2E" class="b"/>
<line x1="1608.88" y1="385.98" x2="1624.62" y2="385.98" class="m"/>
<line x1="1636.75" y1="144.45" x2="1636.75" y2="299.04" class="w"/>
<line x1="1636.75" y1="415.04" x2="1636.75" y2="405.02" class="w"/>
<path d="M1632.85 144.45H1640.65M1632.85 415.04H1640.65" class="c"/>
<rect x="1628.88" y="299.04" width="15.74" height="105.98" fill="#F5CC2E" class="b"/>
<line x1="1628.88" y1="356.92" x2="1644.62" y2="356.92" class="m"/>
<line x1="1656.75" y1="126.41" x2="1656.75" y2="293.53" class="w"/>
<line x1="1656.75" y1="415.04" x2="1656.75" y2="405.02" class="w"/>
<path d="M1652.85 126.41H1660.65M1652.85 415.04H1660.65" class="c"/>
<rect x="1648.88" y="293.53" width="15.74" height="111.49" fill="#F5CC2E" class="b"/>
<line x1="1648.88" y1="350.4" x2="1664.62" y2="350.4" class="m"/>
<line x1="1676.75" y1="118.14" x2="1676.75" y2="284.01" class="w"/>
<line x1="1676.75" y1="415.04" x2="1676.75" y2="399.01" class="w"/>
<path d="M1672.85 118.14H1680.65M1672.85 415.04H1680.65" class="c"/>
<rect x="1668.88" y="284.01" width="15.74" height="115" fill="#F5CC2E" class="b"/>
<line x1="1668.88" y1="336.87" x2="1684.62" y2="336.87" class="m"/>
<line x1="1696.75" y1="116.14" x2="1696.75" y2="285.26" class="w"/>
<line x1="1696.75" y1="415.04" x2="1696.75" y2="400.01" class="w"/>
<path d="M1692.85 116.14H1700.65M1692.85 415.04H1700.65" class="c"/>
<rect x="1688.88" y="285.26" width="15.74" height="114.75" fill="#F5CC2E" class="b"/>
<line x1="1688.88" y1="338.88" x2="1704.62" y2="338.88" class="m"/>
<line x1="1716.75" y1="112.38" x2="1716.75" y2="280.75" class="w"/>
<line x1="1716.75" y1="415.04" x2="1716.75" y2="394.25" class="w"/>
<path d="M1712.85 112.38H1720.65M1712.85 415.04H1720.65" class="c"/>
<rect x="1708.88" y="280.75" width="15.74" height="113.5" fill="#F5CC2E" class="b"/>
<line x1="1708.88" y1="327.6" x2="1724.62" y2="327.6" class="m"/>
<line x1="1736.75" y1="123.9" x2="1736.75" y2="278.24" class="w"/>
<line x1="1736.75" y1="415.04" x2="1736.75" y2="389.99" class="w"/>
<path d="M1732.85 123.9H1740.65M1732.85 415.04H1740.65" class="c"/>
<rect x="1728.88" y="278.24" width="15.74" height="111.75" fill="#F5CC2E" class="b"/>
<line x1="1728.88" y1="332.11" x2="1744.62" y2="332.11" class="m"/>
<line x1="1756.75" y1="126.41" x2="1756.75" y2="269.47" class="w"/>
<line x1="1756.75" y1="415.04" x2="1756.75" y2="387.98" class="w"/>
<path d="M1752.85 126.41H1760.65M1752.85 415.04H1760.65" class="c"/>
<rect x="1748.88" y="269.47" width="15.74" height="118.51" fill="#F5CC2E" class="b"/>
<line x1="1748.88" y1="327.35" x2="1764.62" y2="327.35" class="m"/>
<line x1="1776.75" y1="125.91" x2="1776.75" y2="273.98" class="w"/>
<line x1="1776.75" y1="415.04" x2="1776.75" y2="379.47" class="w"/>
<path d="M1772.85 125.91H1780.65M1772.85 415.04H1780.65" class="c"/>
<rect x="1768.88" y="273.98" width="15.74" height="105.48" fill="#F5CC2E" class="b"/>
<line x1="1768.88" y1="318.58" x2="1784.62" y2="318.58" class="m"/>
<line x1="1796.75" y1="103.61" x2="1796.75" y2="260.45" class="w"/>
<line x1="1796.75" y1="415.04" x2="1796.75" y2="383.22" class="w"/>
<path d="M1792.85 103.61H1800.65M1792.85 415.04H1800.65" class="c"/>
<rect x="1788.88" y="260.45" width="15.74" height="122.77" fill="#F5CC2E" class="b"/>
<line x1="1788.88" y1="308.06" x2="1804.62" y2="308.06" class="m"/>
<line x1="1816.75" y1="124.15" x2="1816.75" y2="262.96" class="w"/>
<line x1="1816.75" y1="415.04" x2="1816.75" y2="369.44" class="w"/>
<path d="M1812.85 124.15H1820.65M1812.85 415.04H1820.65" class="c"/>
<rect x="1808.88" y="262.96" width="15.74" height="106.48" fill="#F5CC2E" class="b"/>
<line x1="1808.88" y1="305.05" x2="1824.62" y2="305.05" class="m"/>
<line x1="1836.75" y1="135.93" x2="1836.75" y2="258.2" class="w"/>
<line x1="1836.75" y1="415.04" x2="1836.75" y2="363.43" class="w"/>
<path d="M1832.85 135.93H1840.65M1832.85 415.04H1840.65" class="c"/>
<rect x="1828.88" y="258.2" width="15.74" height="105.23" fill="#F5CC2E" class="b"/>
<line x1="1828.88" y1="308.56" x2="1844.62" y2="308.56" class="m"/>
<line x1="1856.75" y1="187.29" x2="1856.75" y2="260.2" class="w"/>
<line x1="1856.75" y1="415.04" x2="1856.75" y2="345.14" class="w"/>
<path d="M1852.85 187.29H1860.65M1852.85 415.04H1860.65" class="c"/>
<rect x="1848.88" y="260.2" width="15.74" height="84.94" fill="#F5CC2E" class="b"/>
<line x1="1848.88" y1="293.28" x2="1864.62" y2="293.28" class="m"/>
<line x1="1876.75" y1="105.11" x2="1876.75" y2="266.97" class="w"/>
<line x1="1876.75" y1="415.04" x2="1876.75" y2="383.47" class="w"/>
<path d="M1872.85 105.11H1880.65M1872.85 415.04H1880.65" class="c"/>
<rect x="1868.88" y="266.97" width="15.74" height="116.51" fill="#F5CC2E" class="b"/>
<line x1="1868.88" y1="322.34" x2="1884.62" y2="322.34" class="m"/>
<line x1="1896.75" y1="213.6" x2="1896.75" y2="241.16" class="w"/>
<line x1="1896.75" y1="415.04" x2="1896.75" y2="364.18" class="w"/>
<path d="M1892.85 213.6H1900.65M1892.85 415.04H1900.65" class="c"/>
<rect x="1888.88" y="241.16" width="15.74" height="123.02" fill="#F5CC2E" class="b"/>
<line x1="1888.88" y1="299.54" x2="1904.62" y2="299.54" class="m"/>
<line x1="1916.75" y1="137.43" x2="1916.75" y2="242.92" class="w"/>
<line x1="1916.75" y1="415.04" x2="1916.75" y2="383.47" class="w"/>
<path d="M1912.85 137.43H1920.65M1912.85 415.04H1920.65" class="c"/>
<rect x="1908.88" y="242.92" width="15.74" height="140.56" fill="#F5CC2E" class="b"/>
<line x1="1908.88" y1="347.14" x2="1924.62" y2="347.14" class="m"/>
<line x1="1936.75" y1="245.42" x2="1936.75" y2="281.5" class="w"/>
<line x1="1936.75" y1="415.04" x2="1936.75" y2="386.23" class="w"/>
<path d="M1932.85 245.42H1940.65M1932.85 415.04H1940.65" class="c"/>
<rect x="1928.88" y="281.5" width="15.74" height="104.73" fill="#F5CC2E" class="b"/>
<line x1="1928.88" y1="322.59" x2="1944.62" y2="322.59" class="m"/>
<line x1="1956.75" y1="232.14" x2="1956.75" y2="270.23" class="w"/>
<line x1="1956.75" y1="415.04" x2="1956.75" y2="345.64" class="w"/>
<path d="M1952.85 232.14H1960.65M1952.85 415.04H1960.65" class="c"/>
<rect x="1948.88" y="270.23" width="15.74" height="75.42" fill="#F5CC2E" class="b"/>
<line x1="1948.88" y1="296.28" x2="1964.62" y2="296.28" class="m"/>
<line x1="1976.75" y1="200.82" x2="1976.75" y2="236.65" class="w"/>
<line x1="1976.75" y1="415.04" x2="1976.75" y2="386.98" class="w"/>
<path d="M1972.85 200.82H1980.65M1972.85 415.04H1980.65" class="c"/>
<rect x="1968.88" y="236.65" width="15.74" height="150.33" fill="#F5CC2E" class="b"/>
<line x1="1968.88" y1="326.85" x2="1984.62" y2="326.85" class="m"/>
<line x1="1996.75" y1="245.67" x2="1996.75" y2="259.2" class="w"/>
<line x1="1996.75" y1="370.19" x2="1996.75" y2="336.12" class="w"/>
<path d="M1992.85 245.67H2000.65M1992.85 370.19H2000.65" class="c"/>
<rect x="1988.88" y="259.2" width="15.74" height="76.92" fill="#F5CC2E" class="b"/>
<line x1="1988.88" y1="273.73" x2="2004.62" y2="273.73" class="m"/>
<line x1="2016.75" y1="172.26" x2="2016.75" y2="241.66" class="w"/>
<line x1="2016.75" y1="415.04" x2="2016.75" y2="354.41" class="w"/>
<path d="M2012.85 172.26H2020.65M2012.85 415.04H2020.65" class="c"/>
<rect x="2008.88" y="241.66" width="15.74" height="112.75" fill="#F5CC2E" class="b"/>
<line x1="2008.88" y1="257.7" x2="2024.62" y2="257.7" class="m"/>
<rect x="1590.5" y="91" width="453" height="336" class="fr"/>
<text transform="translate(1574.2,425.24) scale(1,1.035)" text-anchor="end" font-size="28.5">0</text>
<text transform="translate(1574.2,356.34) scale(1,1.035)" text-anchor="end" font-size="28.5">2</text>
<text transform="translate(1574.2,287.44) scale(1,1.035)" text-anchor="end" font-size="28.5">4</text>
<text transform="translate(1574.2,218.54) scale(1,1.035)" text-anchor="end" font-size="28.5">6</text>
<text transform="translate(1574.2,149.64) scale(1,1.035)" text-anchor="end" font-size="28.5">8</text>
<text transform="translate(1616.75,467.5) scale(1,1.035)" text-anchor="middle" font-size="28.5">0</text>
<text transform="translate(1696.75,467.5) scale(1,1.035)" text-anchor="middle" font-size="28.5">4</text>
<text transform="translate(1776.75,467.5) scale(1,1.035)" text-anchor="middle" font-size="28.5">8</text>
<text transform="translate(1856.75,467.5) scale(1,1.035)" text-anchor="middle" font-size="28.5">12</text>
<text transform="translate(1936.75,467.5) scale(1,1.035)" text-anchor="middle" font-size="28.5">16</text>
<text transform="translate(2016.35,467.5) scale(1,1.035)" text-anchor="middle" font-size="28.5">&gt;=20</text>
<path d="M1578.9 415.04H1590.5M1578.9 346.14H1590.5M1578.9 277.24H1590.5M1578.9 208.34H1590.5M1578.9 139.44H1590.5M1616.75 427V438.2M1696.75 427V438.2M1776.75 427V438.2M1856.75 427V438.2M1936.75 427V438.2M2016.75 427V438.2" class="t"/>
<text x="1814.4" y="500.6" text-anchor="middle" font-size="28.5">Enhancers</text>
</g>
<g>
<text x="293" y="548.75" text-anchor="middle" font-size="28" class="k">Sheep</text>
<text transform="translate(105.25,613.5) rotate(-70) scale(1,1.035)" font-size="19.5" class="k kn">5,267</text>
<text transform="translate(126.85,613.5) rotate(-70) scale(1,1.035)" font-size="19.5" class="k kn">3,619</text>
<text transform="translate(148.45,613.5) rotate(-70) scale(1,1.035)" font-size="19.5" class="k kn">3,199</text>
<text transform="translate(170.05,613.5) rotate(-70) scale(1,1.035)" font-size="19.5" class="k kn">2,616</text>
<text transform="translate(191.65,613.5) rotate(-70) scale(1,1.035)" font-size="19.5" class="k kn">1,910</text>
<text transform="translate(213.25,613.5) rotate(-70) scale(1,1.035)" font-size="19.5" class="k kn">1,361</text>
<text transform="translate(234.85,613.5) rotate(-70) scale(1,1.035)" font-size="19.5" class="k kn">983</text>
<text transform="translate(256.45,613.5) rotate(-70) scale(1,1.035)" font-size="19.5" class="k kn">673</text>
<text transform="translate(278.05,613.5) rotate(-70) scale(1,1.035)" font-size="19.5" class="k kn">394</text>
<text transform="translate(299.65,613.5) rotate(-70) scale(1,1.035)" font-size="19.5" class="k kn">299</text>
<text transform="translate(321.25,613.5) rotate(-70) scale(1,1.035)" font-size="19.5" class="k kn">203</text>
<text transform="translate(342.85,613.5) rotate(-70) scale(1,1.035)" font-size="19.5" class="k kn">118</text>
<text transform="translate(364.45,613.5) rotate(-70) scale(1,1.035)" font-size="19.5" class="k kn">97</text>
<text transform="translate(386.05,613.5) rotate(-70) scale(1,1.035)" font-size="19.5" class="k kn">58</text>
<text transform="translate(407.65,613.5) rotate(-70) scale(1,1.035)" font-size="19.5" class="k kn">33</text>
<text transform="translate(429.25,613.5) rotate(-70) scale(1,1.035)" font-size="19.5" class="k kn">22</text>
<text transform="translate(450.85,613.5) rotate(-70) scale(1,1.035)" font-size="19.5" class="k kn">27</text>
<text transform="translate(472.45,613.5) rotate(-70) scale(1,1.035)" font-size="19.5" class="k kn">5</text>
<text transform="translate(494.05,613.5) rotate(-70) scale(1,1.035)" font-size="19.5" class="k kn">5</text>
<text transform="translate(515.65,613.5) rotate(-70) scale(1,1.035)" font-size="19.5" class="k kn">32</text>
<text x="45.75" y="607.1" font-size="28.5" class="k"><tspan font-style="italic">n</tspan>=</text>
<text transform="translate(35.05,929.25) rotate(-90)" font-size="28.5">PCG<tspan dx="2.2"> </tspan><tspan letter-spacing="-.33">expression</tspan><tspan dx="1.5"> (TPM)</tspan></text>
<line x1="106.5" y1="756.38" x2="106.5" y2="867.88" class="w"/>
<line x1="106.5" y1="944.05" x2="106.5" y2="942.29" class="w"/>
<path d="M102.6 756.38H110.4M102.6 944.05H110.4" class="c"/>
<rect x="98.63" y="867.88" width="15.74" height="74.41" fill="#EA461F" class="b"/>
<line x1="98.63" y1="920.49" x2="114.37" y2="920.49" class="m"/>
<line x1="126.5" y1="737.09" x2="126.5" y2="859.86" class="w"/>
<line x1="126.5" y1="944.05" x2="126.5" y2="942.29" class="w"/>
<path d="M122.6 737.09H130.4M122.6 944.05H130.4" class="c"/>
<rect x="118.63" y="859.86" width="15.74" height="82.43" fill="#EA461F" class="b"/>
<line x1="118.63" y1="916.74" x2="134.37" y2="916.74" class="m"/>
<line x1="146.5" y1="720.55" x2="146.5" y2="851.84" class="w"/>
<line x1="146.5" y1="944.05" x2="146.5" y2="940.29" class="w"/>
<path d="M142.6 720.55H150.4M142.6 944.05H150.4" class="c"/>
<rect x="138.63" y="851.84" width="15.74" height="88.44" fill="#EA461F" class="b"/>
<line x1="138.63" y1="903.21" x2="154.37" y2="903.21" class="m"/>
<line x1="166.5" y1="704.27" x2="166.5" y2="844.83" class="w"/>
<line x1="166.5" y1="944.05" x2="166.5" y2="938.53" class="w"/>
<path d="M162.6 704.27H170.4M162.6 944.05H170.4" class="c"/>
<rect x="158.63" y="844.83" width="15.74" height="93.71" fill="#EA461F" class="b"/>
<line x1="158.63" y1="899.95" x2="174.37" y2="899.95" class="m"/>
<line x1="186.5" y1="696.25" x2="186.5" y2="840.57" class="w"/>
<line x1="186.5" y1="944.05" x2="186.5" y2="936.53" class="w"/>
<path d="M182.6 696.25H190.4M182.6 944.05H190.4" class="c"/>
<rect x="178.63" y="840.57" width="15.74" height="95.96" fill="#EA461F" class="b"/>
<line x1="178.63" y1="895.19" x2="194.37" y2="895.19" class="m"/>
<line x1="206.5" y1="707.03" x2="206.5" y2="843.83" class="w"/>
<line x1="206.5" y1="944.05" x2="206.5" y2="935.28" class="w"/>
<path d="M202.6 707.03H210.4M202.6 944.05H210.4" class="c"/>
<rect x="198.63" y="843.83" width="15.74" height="91.45" fill="#EA461F" class="b"/>
<line x1="198.63" y1="893.94" x2="214.37" y2="893.94" class="m"/>
<line x1="226.5" y1="690.24" x2="226.5" y2="835.06" class="w"/>
<line x1="226.5" y1="944.05" x2="226.5" y2="934.52" class="w"/>
<path d="M222.6 690.24H230.4M222.6 944.05H230.4" class="c"/>
<rect x="218.63" y="835.06" width="15.74" height="99.47" fill="#EA461F" class="b"/>
<line x1="218.63" y1="887.17" x2="234.37" y2="887.17" class="m"/>
<line x1="246.5" y1="690.74" x2="246.5" y2="836.81" class="w"/>
<line x1="246.5" y1="944.05" x2="246.5" y2="935.78" class="w"/>
<path d="M242.6 690.74H250.4M242.6 944.05H250.4" class="c"/>
<rect x="238.63" y="836.81" width="15.74" height="98.97" fill="#EA461F" class="b"/>
<line x1="238.63" y1="893.43" x2="254.37" y2="893.43" class="m"/>
<line x1="266.5" y1="703.27" x2="266.5" y2="837.31" class="w"/>
<line x1="266.5" y1="944.05" x2="266.5" y2="928.26" class="w"/>
<path d="M262.6 703.27H270.4M262.6 944.05H270.4" class="c"/>
<rect x="258.63" y="837.31" width="15.74" height="90.95" fill="#EA461F" class="b"/>
<line x1="258.63" y1="884.67" x2="274.37" y2="884.67" class="m"/>
<line x1="286.5" y1="651.9" x2="286.5" y2="815.51" class="w"/>
<line x1="286.5" y1="944.05" x2="286.5" y2="926.76" class="w"/>
<path d="M282.6 651.9H290.4M282.6 944.05H290.4" class="c"/>
<rect x="278.63" y="815.51" width="15.74" height="111.24" fill="#EA461F" class="b"/>
<line x1="278.63" y1="877.65" x2="294.37" y2="877.65" class="m"/>
<line x1="306.5" y1="681.47" x2="306.5" y2="815.51" class="w"/>
<line x1="306.5" y1="944.05" x2="306.5" y2="925.25" class="w"/>
<path d="M302.6 681.47H310.4M302.6 944.05H310.4" class="c"/>
<rect x="298.63" y="815.51" width="15.74" height="109.74" fill="#EA461F" class="b"/>
<line x1="298.63" y1="872.14" x2="314.37" y2="872.14" class="m"/>
<line x1="326.5" y1="694.25" x2="326.5" y2="832.05" class="w"/>
<line x1="326.5" y1="944.05" x2="326.5" y2="931.77" class="w"/>
<path d="M322.6 694.25H330.4M322.6 944.05H330.4" class="c"/>
<rect x="318.63" y="832.05" width="15.74" height="99.72" fill="#EA461F" class="b"/>
<line x1="318.63" y1="877.4" x2="334.37" y2="877.4" class="m"/>
<line x1="346.5" y1="632.36" x2="346.5" y2="796.97" class="w"/>
<line x1="346.5" y1="944.05" x2="346.5" y2="912.73" class="w"/>
<path d="M342.6 632.36H350.4M342.6 944.05H350.4" class="c"/>
<rect x="338.63" y="796.97" width="15.74" height="115.75" fill="#EA461F" class="b"/>
<line x1="338.63" y1="870.38" x2="354.37" y2="870.38" class="m"/>
<line x1="366.5" y1="685.98" x2="366.5" y2="818.77" class="w"/>
<line x1="366.5" y1="944.05" x2="366.5" y2="928.51" class="w"/>
<path d="M362.6 685.98H370.4M362.6 944.05H370.4" class="c"/>
<rect x="358.63" y="818.77" width="15.74" height="109.74" fill="#EA461F" class="b"/>
<line x1="358.63" y1="859.61" x2="374.37" y2="859.61" class="m"/>
<line x1="386.5" y1="720.81" x2="386.5" y2="825.28" class="w"/>
<line x1="386.5" y1="941.54" x2="386.5" y2="930.01" class="w"/>
<path d="M382.6 720.81H390.4M382.6 941.54H390.4" class="c"/>
<rect x="378.63" y="825.28" width="15.74" height="104.73" fill="#EA461F" class="b"/>
<line x1="378.63" y1="893.43" x2="394.37" y2="893.43" class="m"/>
<line x1="406.5" y1="703.77" x2="406.5" y2="780.44" class="w"/>
<line x1="406.5" y1="944.05" x2="406.5" y2="896.94" class="w"/>
<path d="M402.6 703.77H410.4M402.6 944.05H410.4" class="c"/>
<rect x="398.63" y="780.44" width="15.74" height="116.51" fill="#EA461F" class="b"/>
<line x1="398.63" y1="848.59" x2="414.37" y2="848.59" class="m"/>
<line x1="426.5" y1="723.31" x2="426.5" y2="836.56" class="w"/>
<line x1="426.5" y1="944.05" x2="426.5" y2="938.53" class="w"/>
<path d="M422.6 723.31H430.4M422.6 944.05H430.4" class="c"/>
<rect x="418.63" y="836.56" width="15.74" height="101.97" fill="#EA461F" class="b"/>
<line x1="418.63" y1="893.18" x2="434.37" y2="893.18" class="m"/>
<line x1="446.5" y1="726.07" x2="446.5" y2="779.43" class="w"/>
<line x1="446.5" y1="936.53" x2="446.5" y2="863.12" class="w"/>
<path d="M442.6 726.07H450.4M442.6 936.53H450.4" class="c"/>
<rect x="438.63" y="779.43" width="15.74" height="83.68" fill="#EA461F" class="b"/>
<line x1="438.63" y1="837.56" x2="454.37" y2="837.56" class="m"/>
<line x1="466.5" y1="770.66" x2="466.5" y2="795.97" class="w"/>
<line x1="466.5" y1="887.17" x2="466.5" y2="862.87" class="w"/>
<path d="M462.6 770.66H470.4M462.6 887.17H470.4" class="c"/>
<rect x="458.63" y="795.97" width="15.74" height="66.9" fill="#EA461F" class="b"/>
<line x1="458.63" y1="816.52" x2="474.37" y2="816.52" class="m"/>
<line x1="486.5" y1="788.2" x2="486.5" y2="807.75" class="w"/>
<line x1="486.5" y1="939.03" x2="486.5" y2="860.86" class="w"/>
<path d="M482.6 788.2H490.4M482.6 939.03H490.4" class="c"/>
<rect x="478.63" y="807.75" width="15.74" height="53.12" fill="#EA461F" class="b"/>
<line x1="478.63" y1="840.07" x2="494.37" y2="840.07" class="m"/>
<line x1="506.5" y1="647.9" x2="506.5" y2="768.41" class="w"/>
<line x1="506.5" y1="944.05" x2="506.5" y2="876.15" class="w"/>
<path d="M502.6 647.9H510.4M502.6 944.05H510.4" class="c"/>
<rect x="498.63" y="768.41" width="15.74" height="107.74" fill="#EA461F" class="b"/>
<line x1="498.63" y1="821.03" x2="514.37" y2="821.03" class="m"/>
<rect x="79.75" y="619.5" width="453.5" height="336.25" class="fr"/>
<text transform="translate(63.45,954.25) scale(1,1.035)" text-anchor="end" font-size="28.5">0</text>
<text transform="translate(63.45,910.55) scale(1,1.035)" text-anchor="end" font-size="28.5">1</text>
<text transform="translate(63.45,866.85) scale(1,1.035)" text-anchor="end" font-size="28.5">2</text>
<text transform="translate(63.45,823.16) scale(1,1.035)" text-anchor="end" font-size="28.5">3</text>
<text transform="translate(63.45,779.46) scale(1,1.035)" text-anchor="end" font-size="28.5">4</text>
<text transform="translate(63.45,735.77) scale(1,1.035)" text-anchor="end" font-size="28.5">5</text>
<text transform="translate(63.45,692.07) scale(1,1.035)" text-anchor="end" font-size="28.5">6</text>
<text transform="translate(63.45,648.37) scale(1,1.035)" text-anchor="end" font-size="28.5">7</text>
<text transform="translate(106.5,996.25) scale(1,1.035)" text-anchor="middle" font-size="28.5">0</text>
<text transform="translate(186.5,996.25) scale(1,1.035)" text-anchor="middle" font-size="28.5">4</text>
<text transform="translate(266.5,996.25) scale(1,1.035)" text-anchor="middle" font-size="28.5">8</text>
<text transform="translate(346.5,996.25) scale(1,1.035)" text-anchor="middle" font-size="28.5">12</text>
<text transform="translate(426.5,996.25) scale(1,1.035)" text-anchor="middle" font-size="28.5">16</text>
<text transform="translate(515,996.25) scale(1,1.035)" text-anchor="middle" font-size="28.5">&gt;=20</text>
<path d="M68.15 944.05H79.75M68.15 900.35H79.75M68.15 856.65H79.75M68.15 812.96H79.75M68.15 769.26H79.75M68.15 725.57H79.75M68.15 681.87H79.75M68.15 638.17H79.75M106.5 955.75V966.95M186.5 955.75V966.95M266.5 955.75V966.95M346.5 955.75V966.95M426.5 955.75V966.95M506.5 955.75V966.95" class="t"/>
<text x="303.9" y="1029.35" text-anchor="middle" font-size="28.5">Enhancers</text>
</g>
<g>
<text x="795.75" y="548.75" text-anchor="middle" font-size="28" class="k">Cat</text>
<text transform="translate(615,614) rotate(-70) scale(1,1.035)" font-size="19.5" class="k kn">3,789</text>
<text transform="translate(636.6,614) rotate(-70) scale(1,1.035)" font-size="19.5" class="k kn">3,049</text>
<text transform="translate(658.2,614) rotate(-70) scale(1,1.035)" font-size="19.5" class="k kn">2,426</text>
<text transform="translate(679.8,614) rotate(-70) scale(1,1.035)" font-size="19.5" class="k kn">2,123</text>
<text transform="translate(701.4,614) rotate(-70) scale(1,1.035)" font-size="19.5" class="k kn">1,673</text>
<text transform="translate(723,614) rotate(-70) scale(1,1.035)" font-size="19.5" class="k kn">1,202</text>
<text transform="translate(744.6,614) rotate(-70) scale(1,1.035)" font-size="19.5" class="k kn">916</text>
<text transform="translate(766.2,614) rotate(-70) scale(1,1.035)" font-size="19.5" class="k kn">671</text>
<text transform="translate(787.8,614) rotate(-70) scale(1,1.035)" font-size="19.5" class="k kn">492</text>
<text transform="translate(809.4,614) rotate(-70) scale(1,1.035)" font-size="19.5" class="k kn">325</text>
<text transform="translate(831,614) rotate(-70) scale(1,1.035)" font-size="19.5" class="k kn">243</text>
<text transform="translate(852.6,614) rotate(-70) scale(1,1.035)" font-size="19.5" class="k kn">147</text>
<text transform="translate(874.2,614) rotate(-70) scale(1,1.035)" font-size="19.5" class="k kn">130</text>
<text transform="translate(895.8,614) rotate(-70) scale(1,1.035)" font-size="19.5" class="k kn">103</text>
<text transform="translate(917.4,614) rotate(-70) scale(1,1.035)" font-size="19.5" class="k kn">57</text>
<text transform="translate(939,614) rotate(-70) scale(1,1.035)" font-size="19.5" class="k kn">37</text>
<text transform="translate(960.6,614) rotate(-70) scale(1,1.035)" font-size="19.5" class="k kn">41</text>
<text transform="translate(982.2,614) rotate(-70) scale(1,1.035)" font-size="19.5" class="k kn">14</text>
<text transform="translate(1003.8,614) rotate(-70) scale(1,1.035)" font-size="19.5" class="k kn">13</text>
<text transform="translate(1025.4,614) rotate(-70) scale(1,1.035)" font-size="19.5" class="k kn">58</text>
<line x1="616.5" y1="724.31" x2="616.5" y2="854.85" class="w"/>
<line x1="616.5" y1="943.8" x2="616.5" y2="942.04" class="w"/>
<path d="M612.6 724.31H620.4M612.6 943.8H620.4" class="c"/>
<rect x="608.63" y="854.85" width="15.74" height="87.19" fill="#BA1C25" class="b"/>
<line x1="608.63" y1="913.98" x2="624.37" y2="913.98" class="m"/>
<line x1="636.5" y1="698.01" x2="636.5" y2="843.07" class="w"/>
<line x1="636.5" y1="943.8" x2="636.5" y2="940.04" class="w"/>
<path d="M632.6 698.01H640.4M632.6 943.8H640.4" class="c"/>
<rect x="628.63" y="843.07" width="15.74" height="96.96" fill="#BA1C25" class="b"/>
<line x1="628.63" y1="900.7" x2="644.37" y2="900.7" class="m"/>
<line x1="656.5" y1="682.97" x2="656.5" y2="833.55" class="w"/>
<line x1="656.5" y1="943.8" x2="656.5" y2="935.53" class="w"/>
<path d="M652.6 682.97H660.4M652.6 943.8H660.4" class="c"/>
<rect x="648.63" y="833.55" width="15.74" height="101.97" fill="#BA1C25" class="b"/>
<line x1="648.63" y1="891.43" x2="664.37" y2="891.43" class="m"/>
<line x1="676.5" y1="672.2" x2="676.5" y2="826.04" class="w"/>
<line x1="676.5" y1="943.8" x2="676.5" y2="930.27" class="w"/>
<path d="M672.6 672.2H680.4M672.6 943.8H680.4" class="c"/>
<rect x="668.63" y="826.04" width="15.74" height="104.23" fill="#BA1C25" class="b"/>
<line x1="668.63" y1="880.66" x2="684.37" y2="880.66" class="m"/>
<line x1="696.5" y1="668.19" x2="696.5" y2="822.53" class="w"/>
<line x1="696.5" y1="943.8" x2="696.5" y2="928.76" class="w"/>
<path d="M692.6 668.19H700.4M692.6 943.8H700.4" class="c"/>
<rect x="688.63" y="822.53" width="15.74" height="106.23" fill="#BA1C25" class="b"/>
<line x1="688.63" y1="876.15" x2="704.37" y2="876.15" class="m"/>
<line x1="716.5" y1="655.41" x2="716.5" y2="815.76" class="w"/>
<line x1="716.5" y1="943.8" x2="716.5" y2="923.5" class="w"/>
<path d="M712.6 655.41H720.4M712.6 943.8H720.4" class="c"/>
<rect x="708.63" y="815.76" width="15.74" height="107.74" fill="#BA1C25" class="b"/>
<line x1="708.63" y1="871.39" x2="724.37" y2="871.39" class="m"/>
<line x1="736.5" y1="662.68" x2="736.5" y2="819.27" class="w"/>
<line x1="736.5" y1="943.8" x2="736.5" y2="925.76" class="w"/>
<path d="M732.6 662.68H740.4M732.6 943.8H740.4" class="c"/>
<rect x="728.63" y="819.27" width="15.74" height="106.48" fill="#BA1C25" class="b"/>
<line x1="728.63" y1="873.64" x2="744.37" y2="873.64" class="m"/>
<line x1="756.5" y1="678.71" x2="756.5" y2="822.53" class="w"/>
<line x1="756.5" y1="943.8" x2="756.5" y2="919.24" class="w"/>
<path d="M752.6 678.71H760.4M752.6 943.8H760.4" class="c"/>
<rect x="748.63" y="822.53" width="15.74" height="96.71" fill="#BA1C25" class="b"/>
<line x1="748.63" y1="875.14" x2="764.37" y2="875.14" class="m"/>
<line x1="776.5" y1="665.43" x2="776.5" y2="816.77" class="w"/>
<line x1="776.5" y1="943.8" x2="776.5" y2="920.49" class="w"/>
<path d="M772.6 665.43H780.4M772.6 943.8H780.4" class="c"/>
<rect x="768.63" y="816.77" width="15.74" height="103.73" fill="#BA1C25" class="b"/>
<line x1="768.63" y1="870.38" x2="784.37" y2="870.38" class="m"/>
<line x1="796.5" y1="678.46" x2="796.5" y2="818.52" class="w"/>
<line x1="796.5" y1="943.8" x2="796.5" y2="924.5" class="w"/>
<path d="M792.6 678.46H800.4M792.6 943.8H800.4" class="c"/>
<rect x="788.63" y="818.52" width="15.74" height="105.98" fill="#BA1C25" class="b"/>
<line x1="788.63" y1="877.65" x2="804.37" y2="877.65" class="m"/>
<line x1="816.5" y1="674.7" x2="816.5" y2="822.53" class="w"/>
<line x1="816.5" y1="943.8" x2="816.5" y2="922.75" class="w"/>
<path d="M812.6 674.7H820.4M812.6 943.8H820.4" class="c"/>
<rect x="808.63" y="822.53" width="15.74" height="100.22" fill="#BA1C25" class="b"/>
<line x1="808.63" y1="865.12" x2="824.37" y2="865.12" class="m"/>
<line x1="836.5" y1="652.66" x2="836.5" y2="802.74" class="w"/>
<line x1="836.5" y1="943.8" x2="836.5" y2="909.97" class="w"/>
<path d="M832.6 652.66H840.4M832.6 943.8H840.4" class="c"/>
<rect x="828.63" y="802.74" width="15.74" height="107.24" fill="#BA1C25" class="b"/>
<line x1="828.63" y1="861.36" x2="844.37" y2="861.36" class="m"/>
<line x1="856.5" y1="659.17" x2="856.5" y2="813.76" class="w"/>
<line x1="856.5" y1="943.8" x2="856.5" y2="918.74" class="w"/>
<path d="M852.6 659.17H860.4M852.6 943.8H860.4" class="c"/>
<rect x="848.63" y="813.76" width="15.74" height="104.98" fill="#BA1C25" class="b"/>
<line x1="848.63" y1="861.61" x2="864.37" y2="861.61" class="m"/>
<line x1="876.5" y1="710.78" x2="876.5" y2="821.03" class="w"/>
<line x1="876.5" y1="943.8" x2="876.5" y2="899.45" class="w"/>
<path d="M872.6 710.78H880.4M872.6 943.8H880.4" class="c"/>
<rect x="868.63" y="821.03" width="15.74" height="78.42" fill="#BA1C25" class="b"/>
<line x1="868.63" y1="859.11" x2="884.37" y2="859.11" class="m"/>
<line x1="896.5" y1="652.91" x2="896.5" y2="808.75" class="w"/>
<line x1="896.5" y1="943.8" x2="896.5" y2="927.01" class="w"/>
<path d="M892.6 652.91H900.4M892.6 943.8H900.4" class="c"/>
<rect x="888.63" y="808.75" width="15.74" height="118.26" fill="#BA1C25" class="b"/>
<line x1="888.63" y1="878.9" x2="904.37" y2="878.9" class="m"/>
<line x1="916.5" y1="669.69" x2="916.5" y2="783.69" class="w"/>
<line x1="916.5" y1="943.8" x2="916.5" y2="888.92" class="w"/>
<path d="M912.6 669.69H920.4M912.6 943.8H920.4" class="c"/>
<rect x="908.63" y="783.69" width="15.74" height="105.23" fill="#BA1C25" class="b"/>
<line x1="908.63" y1="830.8" x2="924.37" y2="830.8" class="m"/>
<line x1="936.5" y1="632.36" x2="936.5" y2="786.7" class="w"/>
<line x1="936.5" y1="943.8" x2="936.5" y2="900.45" class="w"/>
<path d="M932.6 632.36H940.4M932.6 943.8H940.4" class="c"/>
<rect x="928.63" y="786.7" width="15.74" height="113.75" fill="#BA1C25" class="b"/>
<line x1="928.63" y1="830.55" x2="944.37" y2="830.55" class="m"/>
<line x1="956.5" y1="746.86" x2="956.5" y2="820.02" class="w"/>
<line x1="956.5" y1="943.8" x2="956.5" y2="935.53" class="w"/>
<path d="M952.6 746.86H960.4M952.6 943.8H960.4" class="c"/>
<rect x="948.63" y="820.02" width="15.74" height="115.5" fill="#BA1C25" class="b"/>
<line x1="948.63" y1="862.37" x2="964.37" y2="862.37" class="m"/>
<line x1="976.5" y1="745.36" x2="976.5" y2="816.77" class="w"/>
<line x1="976.5" y1="943.8" x2="976.5" y2="942.04" class="w"/>
<path d="M972.6 745.36H980.4M972.6 943.8H980.4" class="c"/>
<rect x="968.63" y="816.77" width="15.74" height="125.27" fill="#BA1C25" class="b"/>
<line x1="968.63" y1="924.75" x2="984.37" y2="924.75" class="m"/>
<line x1="996.5" y1="736.59" x2="996.5" y2="832.55" class="w"/>
<line x1="996.5" y1="942.54" x2="996.5" y2="929.01" class="w"/>
<path d="M992.6 736.59H1000.4M992.6 942.54H1000.4" class="c"/>
<rect x="988.63" y="832.55" width="15.74" height="96.46" fill="#BA1C25" class="b"/>
<line x1="988.63" y1="896.19" x2="1004.37" y2="896.19" class="m"/>
<line x1="1016.5" y1="663.18" x2="1016.5" y2="804.49" class="w"/>
<line x1="1016.5" y1="943.8" x2="1016.5" y2="938.03" class="w"/>
<path d="M1012.6 663.18H1020.4M1012.6 943.8H1020.4" class="c"/>
<rect x="1008.63" y="804.49" width="15.74" height="133.54" fill="#BA1C25" class="b"/>
<line x1="1008.63" y1="895.44" x2="1024.37" y2="895.44" class="m"/>
<rect x="590" y="619.5" width="453.25" height="336.25" class="fr"/>
<text transform="translate(573.7,954) scale(1,1.035)" text-anchor="end" font-size="28.5">0</text>
<text transform="translate(573.7,901.83) scale(1,1.035)" text-anchor="end" font-size="28.5">1</text>
<text transform="translate(573.7,849.67) scale(1,1.035)" text-anchor="end" font-size="28.5">2</text>
<text transform="translate(573.7,797.5) scale(1,1.035)" text-anchor="end" font-size="28.5">3</text>
<text transform="translate(573.7,745.34) scale(1,1.035)" text-anchor="end" font-size="28.5">4</text>
<text transform="translate(573.7,693.17) scale(1,1.035)" text-anchor="end" font-size="28.5">5</text>
<text transform="translate(573.7,641.01) scale(1,1.035)" text-anchor="end" font-size="28.5">6</text>
<text transform="translate(616.5,996.25) scale(1,1.035)" text-anchor="middle" font-size="28.5">0</text>
<text transform="translate(696.5,996.25) scale(1,1.035)" text-anchor="middle" font-size="28.5">4</text>
<text transform="translate(776.5,996.25) scale(1,1.035)" text-anchor="middle" font-size="28.5">8</text>
<text transform="translate(856.5,996.25) scale(1,1.035)" text-anchor="middle" font-size="28.5">12</text>
<text transform="translate(936.5,996.25) scale(1,1.035)" text-anchor="middle" font-size="28.5">16</text>
<text transform="translate(1022.5,996.25) scale(1,1.035)" text-anchor="middle" font-size="28.5">&gt;=20</text>
<path d="M578.4 943.8H590M578.4 891.63H590M578.4 839.47H590M578.4 787.3H590M578.4 735.14H590M578.4 682.97H590M578.4 630.81H590M616.5 955.75V966.95M696.5 955.75V966.95M776.5 955.75V966.95M856.5 955.75V966.95M936.5 955.75V966.95M1016.5 955.75V966.95" class="t"/>
<text x="814.02" y="1029.35" text-anchor="middle" font-size="28.5">Enhancers</text>
</g>
<g>
<text x="1298.75" y="548.75" text-anchor="middle" font-size="28" class="k">Dog</text>
<text transform="translate(1117,614) rotate(-70) scale(1,1.035)" font-size="19.5" class="k kn">5,764</text>
<text transform="translate(1138.6,614) rotate(-70) scale(1,1.035)" font-size="19.5" class="k kn">3,353</text>
<text transform="translate(1160.2,614) rotate(-70) scale(1,1.035)" font-size="19.5" class="k kn">2,725</text>
<text transform="translate(1181.8,614) rotate(-70) scale(1,1.035)" font-size="19.5" class="k kn">2,038</text>
<text transform="translate(1203.4,614) rotate(-70) scale(1,1.035)" font-size="19.5" class="k kn">1,669</text>
<text transform="translate(1225,614) rotate(-70) scale(1,1.035)" font-size="19.5" class="k kn">1,248</text>
<text transform="translate(1246.6,614) rotate(-70) scale(1,1.035)" font-size="19.5" class="k kn">914</text>
<text transform="translate(1268.2,614) rotate(-70) scale(1,1.035)" font-size="19.5" class="k kn">626</text>
<text transform="translate(1289.8,614) rotate(-70) scale(1,1.035)" font-size="19.5" class="k kn">443</text>
<text transform="translate(1311.4,614) rotate(-70) scale(1,1.035)" font-size="19.5" class="k kn">321</text>
<text transform="translate(1333,614) rotate(-70) scale(1,1.035)" font-size="19.5" class="k kn">221</text>
<text transform="translate(1354.6,614) rotate(-70) scale(1,1.035)" font-size="19.5" class="k kn">136</text>
<text transform="translate(1376.2,614) rotate(-70) scale(1,1.035)" font-size="19.5" class="k kn">123</text>
<text transform="translate(1397.8,614) rotate(-70) scale(1,1.035)" font-size="19.5" class="k kn">84</text>
<text transform="translate(1419.4,614) rotate(-70) scale(1,1.035)" font-size="19.5" class="k kn">56</text>
<text transform="translate(1441,614) rotate(-70) scale(1,1.035)" font-size="19.5" class="k kn">33</text>
<text transform="translate(1462.6,614) rotate(-70) scale(1,1.035)" font-size="19.5" class="k kn">24</text>
<text transform="translate(1484.2,614) rotate(-70) scale(1,1.035)" font-size="19.5" class="k kn">22</text>
<text transform="translate(1505.8,614) rotate(-70) scale(1,1.035)" font-size="19.5" class="k kn">13</text>
<text transform="translate(1527.4,614) rotate(-70) scale(1,1.035)" font-size="19.5" class="k kn">43</text>
<line x1="1119" y1="724.31" x2="1119" y2="854.85" class="w"/>
<line x1="1119" y1="943.8" x2="1119" y2="942.04" class="w"/>
<path d="M1115.1 724.31H1122.9M1115.1 943.8H1122.9" class="c"/>
<rect x="1111.13" y="854.85" width="15.74" height="87.19" fill="#F2911D" class="b"/>
<line x1="1111.13" y1="913.98" x2="1126.87" y2="913.98" class="m"/>
<line x1="1139" y1="698.01" x2="1139" y2="843.07" class="w"/>
<line x1="1139" y1="943.8" x2="1139" y2="940.04" class="w"/>
<path d="M1135.1 698.01H1142.9M1135.1 943.8H1142.9" class="c"/>
<rect x="1131.13" y="843.07" width="15.74" height="96.96" fill="#F2911D" class="b"/>
<line x1="1131.13" y1="900.7" x2="1146.87" y2="900.7" class="m"/>
<line x1="1159" y1="682.97" x2="1159" y2="833.55" class="w"/>
<line x1="1159" y1="943.8" x2="1159" y2="935.53" class="w"/>
<path d="M1155.1 682.97H1162.9M1155.1 943.8H1162.9" class="c"/>
<rect x="1151.13" y="833.55" width="15.74" height="101.97" fill="#F2911D" class="b"/>
<line x1="1151.13" y1="891.43" x2="1166.87" y2="891.43" class="m"/>
<line x1="1179" y1="672.2" x2="1179" y2="826.04" class="w"/>
<line x1="1179" y1="943.8" x2="1179" y2="930.27" class="w"/>
<path d="M1175.1 672.2H1182.9M1175.1 943.8H1182.9" class="c"/>
<rect x="1171.13" y="826.04" width="15.74" height="104.23" fill="#F2911D" class="b"/>
<line x1="1171.13" y1="880.66" x2="1186.87" y2="880.66" class="m"/>
<line x1="1199" y1="668.19" x2="1199" y2="822.53" class="w"/>
<line x1="1199" y1="943.8" x2="1199" y2="928.76" class="w"/>
<path d="M1195.1 668.19H1202.9M1195.1 943.8H1202.9" class="c"/>
<rect x="1191.13" y="822.53" width="15.74" height="106.23" fill="#F2911D" class="b"/>
<line x1="1191.13" y1="876.15" x2="1206.87" y2="876.15" class="m"/>
<line x1="1219" y1="655.41" x2="1219" y2="815.76" class="w"/>
<line x1="1219" y1="943.8" x2="1219" y2="923.5" class="w"/>
<path d="M1215.1 655.41H1222.9M1215.1 943.8H1222.9" class="c"/>
<rect x="1211.13" y="815.76" width="15.74" height="107.74" fill="#F2911D" class="b"/>
<line x1="1211.13" y1="871.39" x2="1226.87" y2="871.39" class="m"/>
<line x1="1239" y1="662.68" x2="1239" y2="819.27" class="w"/>
<line x1="1239" y1="943.8" x2="1239" y2="925.76" class="w"/>
<path d="M1235.1 662.68H1242.9M1235.1 943.8H1242.9" class="c"/>
<rect x="1231.13" y="819.27" width="15.74" height="106.48" fill="#F2911D" class="b"/>
<line x1="1231.13" y1="873.64" x2="1246.87" y2="873.64" class="m"/>
<line x1="1259" y1="678.71" x2="1259" y2="822.53" class="w"/>
<line x1="1259" y1="943.8" x2="1259" y2="919.24" class="w"/>
<path d="M1255.1 678.71H1262.9M1255.1 943.8H1262.9" class="c"/>
<rect x="1251.13" y="822.53" width="15.74" height="96.71" fill="#F2911D" class="b"/>
<line x1="1251.13" y1="875.14" x2="1266.87" y2="875.14" class="m"/>
<line x1="1279" y1="665.43" x2="1279" y2="816.77" class="w"/>
<line x1="1279" y1="943.8" x2="1279" y2="920.49" class="w"/>
<path d="M1275.1 665.43H1282.9M1275.1 943.8H1282.9" class="c"/>
<rect x="1271.13" y="816.77" width="15.74" height="103.73" fill="#F2911D" class="b"/>
<line x1="1271.13" y1="870.38" x2="1286.87" y2="870.38" class="m"/>
<line x1="1299" y1="678.46" x2="1299" y2="818.52" class="w"/>
<line x1="1299" y1="943.8" x2="1299" y2="924.5" class="w"/>
<path d="M1295.1 678.46H1302.9M1295.1 943.8H1302.9" class="c"/>
<rect x="1291.13" y="818.52" width="15.74" height="105.98" fill="#F2911D" class="b"/>
<line x1="1291.13" y1="877.65" x2="1306.87" y2="877.65" class="m"/>
<line x1="1319" y1="674.7" x2="1319" y2="822.53" class="w"/>
<line x1="1319" y1="943.8" x2="1319" y2="922.75" class="w"/>
<path d="M1315.1 674.7H1322.9M1315.1 943.8H1322.9" class="c"/>
<rect x="1311.13" y="822.53" width="15.74" height="100.22" fill="#F2911D" class="b"/>
<line x1="1311.13" y1="865.12" x2="1326.87" y2="865.12" class="m"/>
<line x1="1339" y1="652.66" x2="1339" y2="802.74" class="w"/>
<line x1="1339" y1="943.8" x2="1339" y2="909.97" class="w"/>
<path d="M1335.1 652.66H1342.9M1335.1 943.8H1342.9" class="c"/>
<rect x="1331.13" y="802.74" width="15.74" height="107.24" fill="#F2911D" class="b"/>
<line x1="1331.13" y1="861.36" x2="1346.87" y2="861.36" class="m"/>
<line x1="1359" y1="659.17" x2="1359" y2="813.76" class="w"/>
<line x1="1359" y1="943.8" x2="1359" y2="918.74" class="w"/>
<path d="M1355.1 659.17H1362.9M1355.1 943.8H1362.9" class="c"/>
<rect x="1351.13" y="813.76" width="15.74" height="104.98" fill="#F2911D" class="b"/>
<line x1="1351.13" y1="861.61" x2="1366.87" y2="861.61" class="m"/>
<line x1="1379" y1="710.78" x2="1379" y2="821.03" class="w"/>
<line x1="1379" y1="943.8" x2="1379" y2="899.45" class="w"/>
<path d="M1375.1 710.78H1382.9M1375.1 943.8H1382.9" class="c"/>
<rect x="1371.13" y="821.03" width="15.74" height="78.42" fill="#F2911D" class="b"/>
<line x1="1371.13" y1="859.11" x2="1386.87" y2="859.11" class="m"/>
<line x1="1399" y1="652.91" x2="1399" y2="808.75" class="w"/>
<line x1="1399" y1="943.8" x2="1399" y2="927.01" class="w"/>
<path d="M1395.1 652.91H1402.9M1395.1 943.8H1402.9" class="c"/>
<rect x="1391.13" y="808.75" width="15.74" height="118.26" fill="#F2911D" class="b"/>
<line x1="1391.13" y1="878.9" x2="1406.87" y2="878.9" class="m"/>
<line x1="1419" y1="669.69" x2="1419" y2="783.69" class="w"/>
<line x1="1419" y1="943.8" x2="1419" y2="888.92" class="w"/>
<path d="M1415.1 669.69H1422.9M1415.1 943.8H1422.9" class="c"/>
<rect x="1411.13" y="783.69" width="15.74" height="105.23" fill="#F2911D" class="b"/>
<line x1="1411.13" y1="830.8" x2="1426.87" y2="830.8" class="m"/>
<line x1="1439" y1="632.36" x2="1439" y2="786.7" class="w"/>
<line x1="1439" y1="943.8" x2="1439" y2="900.45" class="w"/>
<path d="M1435.1 632.36H1442.9M1435.1 943.8H1442.9" class="c"/>
<rect x="1431.13" y="786.7" width="15.74" height="113.75" fill="#F2911D" class="b"/>
<line x1="1431.13" y1="830.55" x2="1446.87" y2="830.55" class="m"/>
<line x1="1459" y1="746.86" x2="1459" y2="820.02" class="w"/>
<line x1="1459" y1="943.8" x2="1459" y2="935.53" class="w"/>
<path d="M1455.1 746.86H1462.9M1455.1 943.8H1462.9" class="c"/>
<rect x="1451.13" y="820.02" width="15.74" height="115.5" fill="#F2911D" class="b"/>
<line x1="1451.13" y1="862.37" x2="1466.87" y2="862.37" class="m"/>
<line x1="1479" y1="745.36" x2="1479" y2="816.77" class="w"/>
<line x1="1479" y1="943.8" x2="1479" y2="942.04" class="w"/>
<path d="M1475.1 745.36H1482.9M1475.1 943.8H1482.9" class="c"/>
<rect x="1471.13" y="816.77" width="15.74" height="125.27" fill="#F2911D" class="b"/>
<line x1="1471.13" y1="924.75" x2="1486.87" y2="924.75" class="m"/>
<line x1="1499" y1="736.59" x2="1499" y2="832.55" class="w"/>
<line x1="1499" y1="942.54" x2="1499" y2="929.01" class="w"/>
<path d="M1495.1 736.59H1502.9M1495.1 942.54H1502.9" class="c"/>
<rect x="1491.13" y="832.55" width="15.74" height="96.46" fill="#F2911D" class="b"/>
<line x1="1491.13" y1="896.19" x2="1506.87" y2="896.19" class="m"/>
<line x1="1519" y1="663.18" x2="1519" y2="804.49" class="w"/>
<line x1="1519" y1="943.8" x2="1519" y2="938.03" class="w"/>
<path d="M1515.1 663.18H1522.9M1515.1 943.8H1522.9" class="c"/>
<rect x="1511.13" y="804.49" width="15.74" height="133.54" fill="#F2911D" class="b"/>
<line x1="1511.13" y1="895.44" x2="1526.87" y2="895.44" class="m"/>
<rect x="1092.5" y="619.5" width="453.5" height="336.25" class="fr"/>
<text transform="translate(1076.2,954) scale(1,1.035)" text-anchor="end" font-size="28.5">0</text>
<text transform="translate(1076.2,901.83) scale(1,1.035)" text-anchor="end" font-size="28.5">1</text>
<text transform="translate(1076.2,849.67) scale(1,1.035)" text-anchor="end" font-size="28.5">2</text>
<text transform="translate(1076.2,797.5) scale(1,1.035)" text-anchor="end" font-size="28.5">3</text>
<text transform="translate(1076.2,745.34) scale(1,1.035)" text-anchor="end" font-size="28.5">4</text>
<text transform="translate(1076.2,693.17) scale(1,1.035)" text-anchor="end" font-size="28.5">5</text>
<text transform="translate(1076.2,641.01) scale(1,1.035)" text-anchor="end" font-size="28.5">6</text>
<text transform="translate(1119,996.25) scale(1,1.035)" text-anchor="middle" font-size="28.5">0</text>
<text transform="translate(1199,996.25) scale(1,1.035)" text-anchor="middle" font-size="28.5">4</text>
<text transform="translate(1279,996.25) scale(1,1.035)" text-anchor="middle" font-size="28.5">8</text>
<text transform="translate(1359,996.25) scale(1,1.035)" text-anchor="middle" font-size="28.5">12</text>
<text transform="translate(1439,996.25) scale(1,1.035)" text-anchor="middle" font-size="28.5">16</text>
<text transform="translate(1525.75,996.25) scale(1,1.035)" text-anchor="middle" font-size="28.5">&gt;=20</text>
<path d="M1080.9 943.8H1092.5M1080.9 891.63H1092.5M1080.9 839.47H1092.5M1080.9 787.3H1092.5M1080.9 735.14H1092.5M1080.9 682.97H1092.5M1080.9 630.81H1092.5M1119 955.75V966.95M1199 955.75V966.95M1279 955.75V966.95M1359 955.75V966.95M1439 955.75V966.95M1519 955.75V966.95" class="t"/>
<text x="1316.65" y="1029.35" text-anchor="middle" font-size="28.5">Enhancers</text>
</g>
<text x="-0.8" y="26" font-size="40" font-weight="bold" class="k">a</text>
<text x="4.8" y="1098.9" font-size="40" font-weight="bold" class="k">b</text>
<text x="536.6" y="1098.9" font-size="40" font-weight="bold" class="k">c</text>
<text x="1082.5" y="1099.2" font-size="40" font-weight="bold" class="k">d</text>
<g>
<circle cx="130.5" cy="1170.25" r="3.2" fill="#F5A11C"/>
<circle cx="208.75" cy="1265.25" r="3.2" fill="#F5A11C"/>
<circle cx="347.5" cy="1349.75" r="3.2" fill="#F5A11C"/>
<circle cx="356.25" cy="1205.75" r="3.2" fill="#F5A11C"/>
<circle cx="356.25" cy="1214" r="3.2" fill="#F5A11C"/>
<circle cx="356.25" cy="1224" r="3.2" fill="#F5A11C"/>
<circle cx="356.25" cy="1251.5" r="3.2" fill="#F5A11C"/>
<circle cx="425.75" cy="1310" r="3.2" fill="#F5A11C"/>
<circle cx="425.75" cy="1335.75" r="3.2" fill="#F5A11C"/>
<circle cx="469.25" cy="1207.5" r="3.2" fill="#F5A11C"/>
<circle cx="469.25" cy="1231.75" r="3.2" fill="#F5A11C"/>
<circle cx="469.25" cy="1237.25" r="3.2" fill="#F5A11C"/>
<circle cx="469.25" cy="1254.25" r="3.2" fill="#F5A11C"/>
<circle cx="469.25" cy="1271.25" r="3.2" fill="#F5A11C"/>
<circle cx="469.25" cy="1285.75" r="3.2" fill="#F5A11C"/>
<circle cx="469.25" cy="1301.75" r="3.2" fill="#F5A11C"/>
<circle cx="469.25" cy="1310" r="3.2" fill="#F5A11C"/>
<circle cx="469.25" cy="1320" r="3.2" fill="#F5A11C"/>
<circle cx="469.25" cy="1334.75" r="3.2" fill="#F5A11C"/>
<circle cx="469.25" cy="1360.75" r="3.2" fill="#F5A11C"/>
<circle cx="130.5" cy="1222.5" r="3.2" fill="#BEBEBE"/>
<circle cx="208.75" cy="1328.25" r="3.2" fill="#BEBEBE"/>
<circle cx="347.5" cy="1413" r="3.2" fill="#BEBEBE"/>
<circle cx="356.25" cy="1269.5" r="3.2" fill="#BEBEBE"/>
<circle cx="356.25" cy="1281.25" r="3.2" fill="#BEBEBE"/>
<circle cx="356.25" cy="1315.75" r="3.2" fill="#BEBEBE"/>
<circle cx="356.25" cy="1324" r="3.2" fill="#BEBEBE"/>
<circle cx="425.75" cy="1330.75" r="3.2" fill="#BEBEBE"/>
<circle cx="425.75" cy="1398" r="3.2" fill="#BEBEBE"/>
<circle cx="469.25" cy="1276.25" r="3.2" fill="#BEBEBE"/>
<circle cx="469.25" cy="1284.25" r="3.2" fill="#BEBEBE"/>
<circle cx="469.25" cy="1298.75" r="3.2" fill="#BEBEBE"/>
<circle cx="469.25" cy="1311.25" r="3.2" fill="#BEBEBE"/>
<circle cx="469.25" cy="1313.75" r="3.2" fill="#BEBEBE"/>
<circle cx="469.25" cy="1316.25" r="3.2" fill="#BEBEBE"/>
<circle cx="469.25" cy="1371" r="3.2" fill="#BEBEBE"/>
<circle cx="469.25" cy="1395.25" r="3.2" fill="#BEBEBE"/>
<circle cx="469.25" cy="1417" r="3.2" fill="#BEBEBE"/>
<circle cx="469.25" cy="1419.25" r="3.2" fill="#BEBEBE"/>
<circle cx="469.25" cy="1431" r="3.2" fill="#BEBEBE"/>
<path d="M129.5 1228L138.21 1250.27L146.92 1263.29L155.63 1272.53L164.35 1279.7L173.06 1285.56L181.77 1290.51L190.48 1294.8L199.19 1298.58L207.9 1301.97L216.62 1305.03L225.33 1307.82L234.04 1310.4L242.75 1312.78L251.46 1314.99L260.17 1317.07L268.88 1319.01L277.6 1320.85L286.31 1322.59L295.02 1324.23L303.73 1325.8L312.44 1327.3L321.15 1328.72L329.87 1330.09L338.58 1331.4L347.29 1332.66L356 1333.87L364.71 1335.04L373.42 1336.17L382.13 1337.26L390.85 1338.31L399.56 1339.33L408.27 1340.32L416.98 1341.28L425.69 1342.21L434.4 1343.12L443.12 1344L451.83 1344.85L460.54 1345.69L469.25 1346.5" fill="none" stroke="#BEBEBE" stroke-width="1.9" stroke-linejoin="round"/>
<path d="M129.5 1173.75L138.21 1194.56L146.92 1206.73L155.63 1215.37L164.35 1222.07L173.06 1227.54L181.77 1232.17L190.48 1236.18L199.19 1239.72L207.9 1242.88L216.62 1245.74L225.33 1248.35L234.04 1250.76L242.75 1252.98L251.46 1255.05L260.17 1256.99L268.88 1258.81L277.6 1260.53L286.31 1262.15L295.02 1263.69L303.73 1265.15L312.44 1266.55L321.15 1267.89L329.87 1269.16L338.58 1270.39L347.29 1271.57L356 1272.7L364.71 1273.79L373.42 1274.85L382.13 1275.86L390.85 1276.85L399.56 1277.8L408.27 1278.72L416.98 1279.62L425.69 1280.49L434.4 1281.34L443.12 1282.16L451.83 1282.96L460.54 1283.74L469.25 1284.5" fill="none" stroke="#F39B0C" stroke-width="1.9" stroke-linejoin="round"/>
<rect x="116.5" y="1138.25" width="366" height="319.75" class="fr"/>
<text transform="translate(105.9,1177.35) scale(1,1.035)" text-anchor="end" font-size="28.5">0.8</text>
<text transform="translate(105.9,1269.6) scale(1,1.035)" text-anchor="end" font-size="28.5">0.75</text>
<text transform="translate(105.9,1361.85) scale(1,1.035)" text-anchor="end" font-size="28.5">0.7</text>
<text transform="translate(105.9,1454.35) scale(1,1.035)" text-anchor="end" font-size="28.5">0.65</text>
<text transform="translate(175,1491.7) scale(1,1.035)" text-anchor="middle" font-size="28.5">60</text>
<text transform="translate(262,1491.7) scale(1,1.035)" text-anchor="middle" font-size="28.5">70</text>
<text transform="translate(348.75,1491.7) scale(1,1.035)" text-anchor="middle" font-size="28.5">80</text>
<text transform="translate(435.75,1491.7) scale(1,1.035)" text-anchor="middle" font-size="28.5">90</text>
<path d="M107.9 1169.25H116.5M107.9 1261.5H116.5M107.9 1353.75H116.5M107.9 1446.25H116.5M173 1458V1466.4M260 1458V1466.4M346.75 1458V1466.4M433.75 1458V1466.4" class="t"/>
<line x1="200" y1="1158.75" x2="225" y2="1158.75" stroke="#F39B0C" stroke-width="1.9"/>
<line x1="200" y1="1184.5" x2="225" y2="1184.5" stroke="#BEBEBE" stroke-width="1.9"/>
<text x="235" y="1167" font-size="28" word-spacing="0.7">With ≥ 5 enhancers</text>
<text x="235" y="1192" font-size="28">Control</text>
<text x="299" y="1522" text-anchor="middle" font-size="28.5">Divergence time (MYA)</text>
<text transform="translate(29,1476.33) rotate(-90)" font-size="28.5">PCG<tspan dx="3.3"> </tspan>expression<tspan dx="-2.1"> </tspan><tspan letter-spacing="-.42">correlation</tspan></text>
</g>
<g>
<circle cx="662.75" cy="1210" r="3.2" fill="#F5A11C"/>
<circle cx="742.75" cy="1325.25" r="3.2" fill="#F5A11C"/>
<circle cx="885.5" cy="1404.25" r="3.2" fill="#F5A11C"/>
<circle cx="894.5" cy="1255" r="3.2" fill="#F5A11C"/>
<circle cx="894.5" cy="1279.25" r="3.2" fill="#F5A11C"/>
<circle cx="894.5" cy="1293.75" r="3.2" fill="#F5A11C"/>
<circle cx="894.5" cy="1313.75" r="3.2" fill="#F5A11C"/>
<circle cx="965.75" cy="1348.75" r="3.2" fill="#F5A11C"/>
<circle cx="965.75" cy="1400.5" r="3.2" fill="#F5A11C"/>
<circle cx="1010.5" cy="1274.25" r="3.2" fill="#F5A11C"/>
<circle cx="1010.5" cy="1293" r="3.2" fill="#F5A11C"/>
<circle cx="1010.5" cy="1297.5" r="3.2" fill="#F5A11C"/>
<circle cx="1010.5" cy="1328.25" r="3.2" fill="#F5A11C"/>
<circle cx="1010.5" cy="1333.75" r="3.2" fill="#F5A11C"/>
<circle cx="1010.5" cy="1405.25" r="3.2" fill="#F5A11C"/>
<circle cx="1010.5" cy="1412.75" r="3.2" fill="#F5A11C"/>
<circle cx="1010.5" cy="1422.75" r="3.2" fill="#F5A11C"/>
<circle cx="1010.5" cy="1444.5" r="3.2" fill="#F5A11C"/>
<circle cx="662.75" cy="1178" r="3.2" fill="#BEBEBE"/>
<circle cx="742.75" cy="1307.5" r="3.2" fill="#BEBEBE"/>
<circle cx="885.5" cy="1432.5" r="3.2" fill="#BEBEBE"/>
<circle cx="894.5" cy="1227.5" r="3.2" fill="#BEBEBE"/>
<circle cx="894.5" cy="1233" r="3.2" fill="#BEBEBE"/>
<circle cx="894.5" cy="1258.25" r="3.2" fill="#BEBEBE"/>
<circle cx="894.5" cy="1285" r="3.2" fill="#BEBEBE"/>
<circle cx="965.75" cy="1363" r="3.2" fill="#BEBEBE"/>
<circle cx="965.75" cy="1405.75" r="3.2" fill="#BEBEBE"/>
<circle cx="1010.5" cy="1227.25" r="3.2" fill="#BEBEBE"/>
<circle cx="1010.5" cy="1268.75" r="3.2" fill="#BEBEBE"/>
<circle cx="1010.5" cy="1286" r="3.2" fill="#BEBEBE"/>
<circle cx="1010.5" cy="1303.25" r="3.2" fill="#BEBEBE"/>
<circle cx="1010.5" cy="1339.25" r="3.2" fill="#BEBEBE"/>
<circle cx="1010.5" cy="1356" r="3.2" fill="#BEBEBE"/>
<circle cx="1010.5" cy="1363.75" r="3.2" fill="#BEBEBE"/>
<circle cx="1010.5" cy="1378.25" r="3.2" fill="#BEBEBE"/>
<circle cx="1010.5" cy="1386" r="3.2" fill="#BEBEBE"/>
<circle cx="1010.5" cy="1430.25" r="3.2" fill="#BEBEBE"/>
<path d="M662.25 1181.25L671.18 1209.48L680.11 1226L689.04 1237.71L697.97 1246.8L706.9 1254.23L715.83 1260.51L724.76 1265.95L733.69 1270.74L742.62 1275.04L751.54 1278.92L760.47 1282.46L769.4 1285.72L778.33 1288.74L787.26 1291.55L796.19 1294.18L805.12 1296.65L814.05 1298.98L822.98 1301.18L831.91 1303.27L840.84 1305.25L849.77 1307.15L858.7 1308.96L867.63 1310.69L876.56 1312.36L885.49 1313.95L894.42 1315.49L903.35 1316.97L912.28 1318.4L921.21 1319.78L930.13 1321.12L939.06 1322.41L947.99 1323.66L956.92 1324.88L965.85 1326.06L974.78 1327.21L983.71 1328.32L992.64 1329.41L1001.57 1330.47L1010.5 1331.5" fill="none" stroke="#BEBEBE" stroke-width="1.9" stroke-linejoin="round"/>
<path d="M662.25 1213.75L671.18 1239.16L680.11 1254.03L689.04 1264.58L697.97 1272.76L706.9 1279.44L715.83 1285.1L724.76 1289.99L733.69 1294.31L742.62 1298.17L751.54 1301.67L760.47 1304.86L769.4 1307.79L778.33 1310.51L787.26 1313.04L796.19 1315.4L805.12 1317.63L814.05 1319.72L822.98 1321.71L831.91 1323.59L840.84 1325.38L849.77 1327.08L858.7 1328.71L867.63 1330.27L876.56 1331.77L885.49 1333.21L894.42 1334.59L903.35 1335.92L912.28 1337.21L921.21 1338.45L930.13 1339.65L939.06 1340.82L947.99 1341.95L956.92 1343.04L965.85 1344.1L974.78 1345.14L983.71 1346.14L992.64 1347.12L1001.57 1348.07L1010.5 1349" fill="none" stroke="#F39B0C" stroke-width="1.9" stroke-linejoin="round"/>
<rect x="648.25" y="1138.75" width="376" height="321" class="fr"/>
<text transform="translate(637.65,1184.1) scale(1,1.035)" text-anchor="end" font-size="28.5">0.8</text>
<text transform="translate(637.65,1233.6) scale(1,1.035)" text-anchor="end" font-size="28.5">0.78</text>
<text transform="translate(637.65,1283.1) scale(1,1.035)" text-anchor="end" font-size="28.5">0.76</text>
<text transform="translate(637.65,1332.6) scale(1,1.035)" text-anchor="end" font-size="28.5">0.74</text>
<text transform="translate(637.65,1382.1) scale(1,1.035)" text-anchor="end" font-size="28.5">0.72</text>
<text transform="translate(637.65,1431.6) scale(1,1.035)" text-anchor="end" font-size="28.5">0.7</text>
<text transform="translate(708.75,1493.45) scale(1,1.035)" text-anchor="middle" font-size="28.5">60</text>
<text transform="translate(797.75,1493.45) scale(1,1.035)" text-anchor="middle" font-size="28.5">70</text>
<text transform="translate(887,1493.45) scale(1,1.035)" text-anchor="middle" font-size="28.5">80</text>
<text transform="translate(976.25,1493.45) scale(1,1.035)" text-anchor="middle" font-size="28.5">90</text>
<path d="M639.65 1176H648.25M639.65 1225.5H648.25M639.65 1275H648.25M639.65 1324.5H648.25M639.65 1374H648.25M639.65 1423.5H648.25M706.75 1459.75V1468.15M795.75 1459.75V1468.15M885 1459.75V1468.15M974.25 1459.75V1468.15" class="t"/>
<line x1="762.5" y1="1158.75" x2="787.5" y2="1158.75" stroke="#F39B0C" stroke-width="1.9"/>
<line x1="762.5" y1="1184.5" x2="787.5" y2="1184.5" stroke="#BEBEBE" stroke-width="1.9"/>
<text x="798.75" y="1167" font-size="28" word-spacing="0">With ≤1 enhancer</text>
<text x="798.75" y="1192" font-size="28">Control</text>
<text x="845" y="1522" text-anchor="middle" font-size="28.5">Divergence time (MYA)</text>
<text transform="translate(561,1477.45) rotate(-90)" font-size="28.5">PCG<tspan dx="3.3"> </tspan>expression<tspan dx="-2.1"> </tspan><tspan letter-spacing="-.42">correlation</tspan></text>
</g>
<g>
<line x1="1300" y1="1180" x2="1300" y2="1289" class="w2"/>
<line x1="1300" y1="1389.5" x2="1300" y2="1363.75" class="w2"/>
<path d="M1269.25 1180H1330M1269.25 1389.5H1330" class="c2"/>
<rect x="1240.75" y="1289" width="118.75" height="74.75" fill="#6CB92D" class="b2"/>
<line x1="1240.75" y1="1342.75" x2="1359.5" y2="1342.75" class="m2"/>
<line x1="1447.75" y1="1173.25" x2="1447.75" y2="1282" class="w2"/>
<line x1="1447.75" y1="1396" x2="1447.75" y2="1355" class="w2"/>
<path d="M1417.5 1173.25H1478.25M1417.5 1396H1478.25" class="c2"/>
<rect x="1388.25" y="1282" width="119" height="73" fill="#126536" class="b2"/>
<line x1="1388.25" y1="1334" x2="1507.25" y2="1334" class="m2"/>
<rect x="1199.5" y="1139.25" width="349" height="320" class="fr2"/>
<text transform="translate(1172.2,1162.6) scale(1,1.035)" text-anchor="end" font-size="28.5">0.5</text>
<text transform="translate(1172.2,1212.1) scale(1,1.035)" text-anchor="end" font-size="28.5">0.4</text>
<text transform="translate(1172.2,1261.6) scale(1,1.035)" text-anchor="end" font-size="28.5">0.3</text>
<text transform="translate(1172.2,1310.85) scale(1,1.035)" text-anchor="end" font-size="28.5">0.2</text>
<text transform="translate(1172.2,1360.35) scale(1,1.035)" text-anchor="end" font-size="28.5">0.1</text>
<text transform="translate(1172.2,1409.6) scale(1,1.035)" text-anchor="end" font-size="28.5">0</text>
<text transform="translate(1172.2,1458.85) scale(1,1.035)" text-anchor="end" font-size="28.5"><tspan font-size="24">−</tspan>0.1</text>
<path d="M1184.5 1151H1199.5M1184.5 1200.5H1199.5M1184.5 1250H1199.5M1184.5 1299.25H1199.5M1184.5 1348.75H1199.5M1184.5 1398H1199.5M1184.5 1447.25H1199.5" class="t2"/>
<text x="1369.75" y="1166.75" text-anchor="middle" font-size="28.5"><tspan font-style="italic">P</tspan> = 0.0627</text>
<text transform="translate(1106,1310) rotate(-90)" text-anchor="middle" font-size="28.5">PhastCons</text>
<text x="1124.4" y="1127.5" font-size="28.5">Median =</text>
<text transform="translate(1293.5,1127.5) scale(1,1.035)" text-anchor="middle" font-size="28.5">0.11</text>
<text transform="translate(1442,1127.5) scale(1,1.035)" text-anchor="middle" font-size="28.5">0.13</text>
<text x="1298.75" y="1495.75" text-anchor="middle" font-size="28.5">Variable</text>
<text x="1448.75" y="1495.75" text-anchor="middle" font-size="28.5">Stable</text>
</g>
<g>
<line x1="1792.5" y1="1207.5" x2="1792.5" y2="1290" class="w2"/>
<line x1="1792.5" y1="1411.25" x2="1792.5" y2="1353" class="w2"/>
<path d="M1762.25 1207.5H1822.75M1762.25 1411.25H1822.75" class="c2"/>
<rect x="1733.25" y="1290" width="118.75" height="63" fill="#6CB92D" class="b2"/>
<line x1="1733.25" y1="1334.25" x2="1852" y2="1334.25" class="m2"/>
<line x1="1940.75" y1="1202" x2="1940.75" y2="1290" class="w2"/>
<line x1="1940.75" y1="1430" x2="1940.75" y2="1349.5" class="w2"/>
<path d="M1910.25 1202H1971M1910.25 1430H1971" class="c2"/>
<rect x="1881.5" y="1290" width="118.75" height="59.5" fill="#126536" class="b2"/>
<line x1="1881.5" y1="1324" x2="2000.25" y2="1324" class="m2"/>
<rect x="1692.75" y="1138.5" width="348.75" height="319.75" class="fr2"/>
<text transform="translate(1665.45,1161.6) scale(1,1.035)" text-anchor="end" font-size="28.5">1.5</text>
<text transform="translate(1665.45,1228.6) scale(1,1.035)" text-anchor="end" font-size="28.5">1</text>
<text transform="translate(1665.45,1296.1) scale(1,1.035)" text-anchor="end" font-size="28.5">0.5</text>
<text transform="translate(1665.45,1363.85) scale(1,1.035)" text-anchor="end" font-size="28.5">0</text>
<text transform="translate(1665.45,1430.85) scale(1,1.035)" text-anchor="end" font-size="28.5"><tspan font-size="24">−</tspan>0.5</text>
<path d="M1677.75 1150H1692.75M1677.75 1217H1692.75M1677.75 1284.5H1692.75M1677.75 1352.25H1692.75M1677.75 1419.25H1692.75" class="t2"/>
<text x="1853.25" y="1166.75" text-anchor="middle" font-size="28.5"><tspan font-style="italic">P</tspan> = 0.188</text>
<text transform="translate(1598.5,1292) rotate(-90)" text-anchor="middle" font-size="28.5">PhyloP</text>
<text x="1612.4" y="1127.5" font-size="28.5">Median =</text>
<text transform="translate(1787,1127.5) scale(1,1.035)" text-anchor="middle" font-size="28.5">0.13</text>
<text transform="translate(1934,1127.5) scale(1,1.035)" text-anchor="middle" font-size="28.5">0.21</text>
<text x="1792.5" y="1495.75" text-anchor="middle" font-size="28.5">Variable</text>
<text x="1943.5" y="1495.75" text-anchor="middle" font-size="28.5">Stable</text>
</g>
</svg>
</body></html>
